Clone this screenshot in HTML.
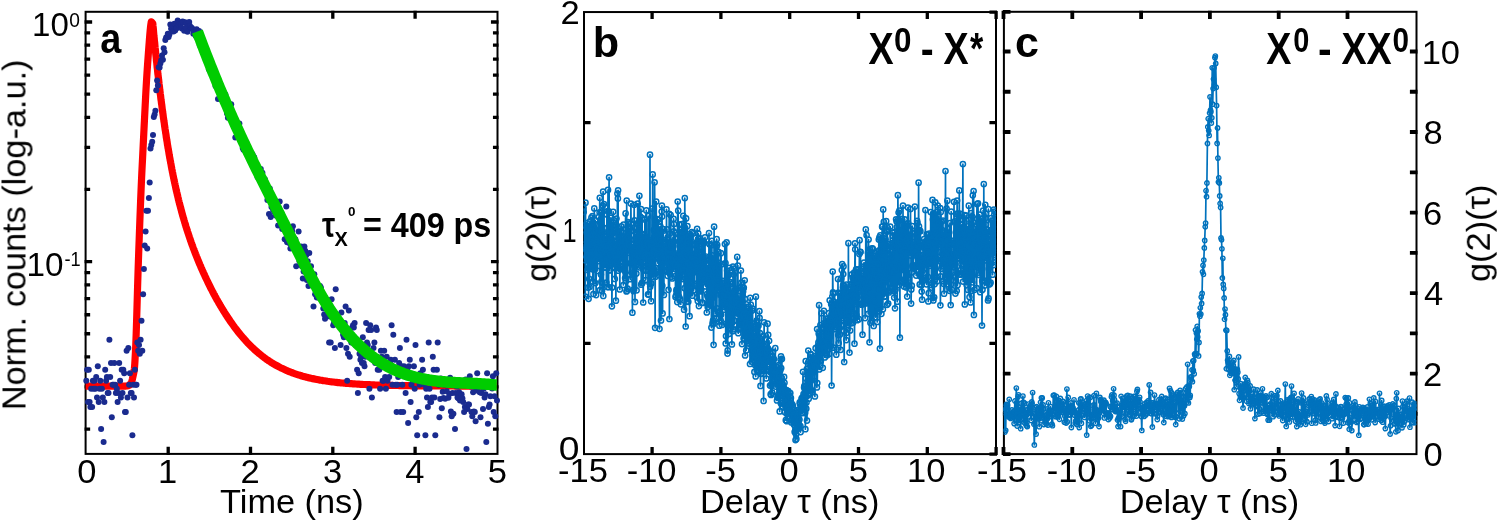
<!DOCTYPE html>
<html><head><meta charset="utf-8"><title>Figure</title>
<style>html,body{margin:0;padding:0;background:#fff}svg{display:block}text{font-family:"Liberation Sans",sans-serif;fill:#000}</style>
</head><body>
<svg width="1497" height="522" viewBox="0 0 1497 522">
<rect width="1497" height="522" fill="#fff"/>
<rect x="85.60" y="11.80" width="411.90" height="442.10" stroke="#000" stroke-width="2" fill="none"/>
<path d="M168.20 453.25L168.20 448.50M168.20 12.45L168.20 17.20M250.50 453.25L250.50 448.50M250.50 12.45L250.50 17.20M332.80 453.25L332.80 448.50M332.80 12.45L332.80 17.20M415.10 453.25L415.10 448.50M415.10 12.45L415.10 17.20M86.25 22.00L90.50 22.00M496.85 22.00L492.60 22.00M86.25 261.60L90.50 261.60M496.85 261.60L492.60 261.60M86.25 189.47L88.50 189.47M496.85 189.47L494.60 189.47M86.25 147.28L88.50 147.28M496.85 147.28L494.60 147.28M86.25 117.35L88.50 117.35M496.85 117.35L494.60 117.35M86.25 94.13L88.50 94.13M496.85 94.13L494.60 94.13M86.25 75.15L88.50 75.15M496.85 75.15L494.60 75.15M86.25 59.11L88.50 59.11M496.85 59.11L494.60 59.11M86.25 45.22L88.50 45.22M496.85 45.22L494.60 45.22M86.25 32.96L88.50 32.96M496.85 32.96L494.60 32.96M86.25 429.07L88.50 429.07M496.85 429.07L494.60 429.07M86.25 386.88L88.50 386.88M496.85 386.88L494.60 386.88M86.25 356.95L88.50 356.95M496.85 356.95L494.60 356.95M86.25 333.73L88.50 333.73M496.85 333.73L494.60 333.73M86.25 314.75L88.50 314.75M496.85 314.75L494.60 314.75M86.25 298.71L88.50 298.71M496.85 298.71L494.60 298.71M86.25 284.82L88.50 284.82M496.85 284.82L494.60 284.82M86.25 272.56L88.50 272.56M496.85 272.56L494.60 272.56" stroke="#000" stroke-width="3.3" stroke-linecap="square" fill="none"/>
<polyline points="85.6,386.2 91.6,386.2 97.6,386.2 103.6,386.2 109.6,386.2 115.6,386.2 121.6,386.2 124.0,386.2 124.2,386.2 124.4,386.2 124.6,386.2 124.8,386.2 125.0,386.2 125.2,386.2 125.4,386.1 125.6,386.1 125.8,386.1 126.0,386.1 126.2,386.0 126.4,386.0 126.6,386.0 126.8,386.0 127.0,385.9 127.2,385.9 127.4,385.8 127.6,385.8 127.8,385.8 128.0,385.7 128.2,385.7 128.4,385.6 128.6,385.6 128.8,385.5 129.0,385.4 129.2,385.2 129.4,385.1 129.6,384.9 129.8,384.7 130.0,384.4 130.2,384.2 130.4,383.9 130.6,383.6 130.8,383.3 131.0,382.9 131.2,382.6 131.4,382.2 131.6,381.8 131.8,381.3 132.0,380.6 132.2,379.9 132.4,379.1 132.6,378.2 132.8,377.3 133.0,376.4 133.2,375.5 133.4,374.5 133.6,373.6 133.8,372.7 134.0,371.6 134.2,370.3 134.4,368.6 134.6,366.3 134.8,363.5 135.0,360.2 135.2,356.5 135.4,352.6 135.6,348.5 135.8,344.1 136.0,339.0 136.2,333.4 136.4,327.3 136.6,320.9 136.8,314.2 137.0,307.4 137.2,300.4 137.4,293.4 137.6,286.5 137.8,279.8 138.0,273.3 138.2,267.1 138.4,261.3 138.6,255.6 138.8,250.0 139.0,244.3 139.2,238.8 139.4,233.2 139.6,227.8 139.8,222.4 140.0,217.0 140.2,211.8 140.4,206.6 140.6,201.5 140.8,196.5 141.0,191.7 141.2,186.9 141.4,182.3 141.6,177.8 141.8,173.5 142.0,169.4 142.2,165.4 142.4,161.5 142.6,157.5 142.8,153.5 143.0,149.4 143.2,145.3 143.4,141.2 143.6,137.2 143.8,133.1 144.0,129.1 144.2,125.0 144.4,121.1 144.6,117.1 144.8,113.1 145.0,109.1 145.2,105.1 145.4,101.2 145.6,97.2 145.8,93.4 146.0,89.7 146.2,86.1 146.4,82.7 146.6,79.4 146.8,76.2 147.0,73.1 147.2,70.0 147.4,67.0 147.6,64.1 147.8,61.2 148.0,58.4 148.2,55.7 148.4,53.0 148.6,50.3 148.8,47.7 149.0,45.1 149.2,42.5 149.4,39.9 149.6,37.3 149.8,34.9 150.0,32.5 150.2,30.3 150.4,28.3 150.6,26.5 150.8,24.9 151.0,23.6 151.2,22.3 151.3,21.8 152.8,23.4 153.0,25.9 153.3,28.4 153.5,30.9 153.7,33.3 153.9,35.7 154.2,38.1 154.4,40.5 154.7,42.9 154.9,45.2 155.1,47.6 155.4,49.9 155.6,52.2 155.8,54.4 156.1,56.7 156.3,58.9 156.5,61.1 156.8,63.3 157.0,65.5 157.2,67.6 157.5,69.7 157.7,71.9 157.9,74.0 158.2,76.0 158.4,78.1 158.7,80.1 158.9,82.2 159.1,84.2 159.4,86.2 159.6,88.2 159.8,90.1 160.1,92.1 160.3,94.0 160.6,95.9 160.8,97.8 161.0,99.7 161.3,101.5 161.5,103.4 161.8,105.2 162.0,107.0 162.2,108.8 162.5,110.6 162.7,112.4 163.0,114.2 163.2,115.9 163.4,117.6 163.7,119.3 163.9,121.0 164.2,122.7 164.4,124.4 164.6,126.0 164.9,127.7 165.1,129.3 165.4,130.9 165.6,132.5 165.9,134.1 166.1,135.6 166.3,137.2 166.6,138.7 166.8,140.3 167.1,141.8 167.3,143.3 167.5,144.8 167.8,146.2 168.0,147.7 168.3,149.1 168.5,150.6 168.8,152.0 169.0,153.4 169.2,154.8 169.5,156.2 169.7,157.6 170.0,158.9 170.2,160.3 170.5,161.6 170.7,162.9 171.0,164.2 171.2,165.5 171.4,166.8 171.7,168.1 171.9,169.4 172.2,170.6 172.4,171.9 172.7,173.1 172.9,174.3 173.1,175.5 173.4,176.7 173.6,177.9 173.9,179.1 174.1,180.3 174.4,181.4 174.6,182.6 174.9,183.7 175.1,184.9 175.4,186.0 175.6,187.1 175.8,188.2 176.1,189.3 176.3,190.4 176.6,191.4 176.8,192.5 177.1,193.5 177.3,194.6 177.6,195.6 177.8,196.7 178.1,197.7 178.3,198.7 178.5,199.7 178.8,200.7 179.0,201.7 179.3,202.7 179.5,203.6 179.8,204.6 180.0,205.5 180.3,206.5 180.5,207.4 180.8,208.4 181.0,209.3 181.3,210.2 181.5,211.1 181.7,212.0 182.0,212.9 182.2,213.8 182.5,214.7 182.7,215.6 183.0,216.5 183.2,217.3 183.5,218.2 183.7,219.0 184.0,219.9 184.2,220.7 184.5,221.6 184.7,222.4 185.0,223.2 185.2,224.0 185.4,224.8 185.7,225.6 185.9,226.4 186.2,227.2 186.4,228.0 186.7,228.8 186.9,229.6 187.2,230.4 187.4,231.1 187.7,231.9 187.9,232.7 188.2,233.4 188.4,234.2 188.7,234.9 188.9,235.6 189.2,236.4 189.4,237.1 189.7,237.8 189.9,238.6 190.2,239.3 190.4,240.0 190.6,240.7 190.9,241.4 191.1,242.1 191.4,242.8 191.6,243.5 191.9,244.2 192.1,244.9 192.4,245.6 192.6,246.2 192.9,246.9 193.1,247.6 193.4,248.3 193.6,248.9 193.9,249.6 194.1,250.2 194.4,250.9 194.6,251.6 194.9,252.2 195.1,252.8 195.4,253.5 195.6,254.1 195.9,254.8 196.1,255.4 196.4,256.0 196.6,256.6 196.9,257.3 197.1,257.9 197.4,258.5 197.6,259.1 197.8,259.7 198.1,260.3 198.3,260.9 198.6,261.5 198.8,262.1 199.1,262.7 199.3,263.3 199.6,263.9 199.8,264.5 200.1,265.1 200.3,265.7 200.6,266.2 200.8,266.8 201.1,267.4 201.3,268.0 201.6,268.5 201.8,269.1 202.1,269.7 202.3,270.2 202.6,270.8 202.8,271.4 203.1,271.9 203.3,272.5 203.6,273.0 203.8,273.6 204.1,274.1 204.3,274.7 204.6,275.2 204.8,275.7 205.1,276.3 205.3,276.8 205.6,277.4 205.8,277.9 206.1,278.4 206.3,278.9 206.6,279.5 206.8,280.0 207.1,280.5 207.3,281.0 207.6,281.5 207.8,282.1 208.1,282.6 208.3,283.1 208.6,283.6 208.8,284.1 209.1,284.6 209.3,285.1 209.6,285.6 209.8,286.1 210.1,286.6 210.3,287.1 210.5,287.6 210.8,288.1 211.0,288.6 211.3,289.1 211.5,289.5 211.8,290.0 212.0,290.5 212.3,291.0 212.5,291.5 212.8,291.9 213.0,292.4 213.3,292.9 213.5,293.4 213.8,293.8 214.0,294.3 214.3,294.8 214.5,295.2 214.8,295.7 215.0,296.2 215.3,296.6 215.5,297.1 215.8,297.5 216.0,298.0 216.3,298.4 216.5,298.9 216.8,299.3 217.0,299.8 217.3,300.2 217.5,300.7 217.8,301.1 218.0,301.5 218.3,302.0 218.5,302.4 218.8,302.9 219.0,303.3 219.3,303.7 219.5,304.2 219.8,304.6 220.0,305.0 220.3,305.4 220.5,305.9 220.8,306.3 221.0,306.7 221.3,307.1 221.5,307.5 221.8,307.9 222.0,308.4 222.3,308.8 222.5,309.2 222.8,309.6 223.0,310.0 223.3,310.4 223.5,310.8 223.8,311.2 224.0,311.6 224.3,312.0 224.5,312.4 224.8,312.8 225.0,313.2 225.3,313.6 225.5,314.0 225.8,314.4 226.0,314.8 226.3,315.2 226.5,315.5 226.8,315.9 227.0,316.3 227.3,316.7 227.5,317.1 227.8,317.4 228.0,317.8 228.3,318.2 228.5,318.6 228.8,318.9 229.0,319.3 229.3,319.7 229.5,320.0 229.8,320.4 230.0,320.8 231.5,322.9 233.0,325.0 234.5,327.1 236.0,329.1 237.5,331.0 239.0,332.9 240.5,334.7 242.0,336.5 243.5,338.3 245.0,339.9 246.5,341.6 248.0,343.2 249.5,344.7 251.0,346.2 252.5,347.7 254.0,349.1 255.5,350.5 257.0,351.8 258.5,353.1 260.0,354.3 261.5,355.5 263.0,356.7 264.5,357.8 266.0,358.9 267.5,359.9 269.0,361.0 270.5,361.9 272.0,362.9 273.5,363.8 275.0,364.7 276.5,365.5 278.0,366.3 279.5,367.1 281.0,367.9 282.5,368.6 284.0,369.3 285.5,370.0 287.0,370.7 288.5,371.3 290.0,371.9 291.5,372.5 293.0,373.0 294.5,373.6 296.0,374.1 297.5,374.6 299.0,375.1 300.5,375.5 302.0,376.0 303.5,376.4 305.0,376.8 306.5,377.2 308.0,377.6 309.5,377.9 311.0,378.3 312.5,378.6 314.0,378.9 315.5,379.2 317.0,379.5 318.5,379.8 320.0,380.1 321.5,380.3 323.0,380.6 324.5,380.8 326.0,381.0 327.5,381.3 329.0,381.5 330.5,381.7 332.0,381.9 333.5,382.0 335.0,382.2 336.5,382.4 338.0,382.6 339.5,382.7 341.0,382.9 342.5,383.0 344.0,383.1 345.5,383.3 347.0,383.4 348.5,383.5 350.0,383.6 351.5,383.7 353.0,383.8 354.5,383.9 356.0,384.0 357.5,384.1 359.0,384.2 360.5,384.3 362.0,384.4 363.5,384.5 365.0,384.5 366.5,384.6 368.0,384.7 369.5,384.7 371.0,384.8 372.5,384.9 374.0,384.9 375.5,385.0 377.0,385.0 378.5,385.1 380.0,385.1 381.5,385.2 383.0,385.2 384.5,385.2 386.0,385.3 387.5,385.3 389.0,385.4 390.5,385.4 392.0,385.4 393.5,385.5 395.0,385.5 396.5,385.5 398.0,385.5 399.5,385.6 401.0,385.6 402.5,385.6 404.0,385.6 405.5,385.7 407.0,385.7 408.5,385.7 410.0,385.7 411.5,385.8 413.0,385.8 414.5,385.8 416.0,385.8 417.5,385.8 419.0,385.8 420.5,385.8 422.0,385.9 423.5,385.9 425.0,385.9 426.5,385.9 428.0,385.9 429.5,385.9 431.0,385.9 432.5,385.9 434.0,386.0 435.5,386.0 437.0,386.0 438.5,386.0 440.0,386.0 441.5,386.0 443.0,386.0 444.5,386.0 446.0,386.0 447.5,386.0 449.0,386.0 450.5,386.0 452.0,386.0 453.5,386.0 455.0,386.1 456.5,386.1 458.0,386.1 459.5,386.1 461.0,386.1 462.5,386.1 464.0,386.1 465.5,386.1 467.0,386.1 468.5,386.1 470.0,386.1 471.5,386.1 473.0,386.1 474.5,386.1 476.0,386.1 477.5,386.1 479.0,386.1 480.5,386.1 482.0,386.1 483.5,386.1 485.0,386.1 486.5,386.1 488.0,386.1 489.5,386.1 491.0,386.1 492.5,386.1 494.0,386.1 495.5,386.1 496.5,386.1" fill="none" stroke="#ff0000" stroke-width="7.2" stroke-linejoin="round"/>
<g fill="#1a2b8f"><circle cx="86.3" cy="380.7" r="3"/><circle cx="87.1" cy="369.8" r="3"/><circle cx="88.0" cy="402.1" r="3"/><circle cx="88.8" cy="369.8" r="3"/><circle cx="89.6" cy="402.1" r="3"/><circle cx="90.4" cy="406.9" r="3"/><circle cx="91.2" cy="388.7" r="3"/><circle cx="92.1" cy="406.9" r="3"/><circle cx="92.9" cy="380.7" r="3"/><circle cx="93.7" cy="388.7" r="3"/><circle cx="94.5" cy="380.7" r="3"/><circle cx="95.4" cy="388.7" r="3"/><circle cx="96.2" cy="376.9" r="3"/><circle cx="97.0" cy="397.4" r="3"/><circle cx="97.8" cy="366.3" r="3"/><circle cx="98.7" cy="402.1" r="3"/><circle cx="99.5" cy="388.7" r="3"/><circle cx="100.3" cy="380.7" r="3"/><circle cx="101.1" cy="428.9" r="3"/><circle cx="101.9" cy="388.7" r="3"/><circle cx="102.8" cy="397.4" r="3"/><circle cx="103.6" cy="441.9" r="3"/><circle cx="104.4" cy="402.1" r="3"/><circle cx="105.2" cy="369.8" r="3"/><circle cx="106.1" cy="380.7" r="3"/><circle cx="106.9" cy="376.9" r="3"/><circle cx="107.7" cy="393.0" r="3"/><circle cx="108.5" cy="393.0" r="3"/><circle cx="109.4" cy="339.8" r="3"/><circle cx="110.2" cy="376.9" r="3"/><circle cx="111.0" cy="363.0" r="3"/><circle cx="111.8" cy="417.3" r="3"/><circle cx="112.6" cy="384.7" r="3"/><circle cx="113.5" cy="384.7" r="3"/><circle cx="114.3" cy="363.0" r="3"/><circle cx="115.1" cy="384.7" r="3"/><circle cx="115.9" cy="393.0" r="3"/><circle cx="116.8" cy="388.7" r="3"/><circle cx="117.6" cy="402.1" r="3"/><circle cx="118.4" cy="393.0" r="3"/><circle cx="119.2" cy="363.0" r="3"/><circle cx="120.1" cy="380.7" r="3"/><circle cx="120.9" cy="397.4" r="3"/><circle cx="121.7" cy="369.8" r="3"/><circle cx="122.5" cy="393.0" r="3"/><circle cx="123.3" cy="369.8" r="3"/><circle cx="124.2" cy="373.3" r="3"/><circle cx="125.0" cy="412.0" r="3"/><circle cx="125.8" cy="412.0" r="3"/><circle cx="126.6" cy="350.8" r="3"/><circle cx="127.5" cy="397.4" r="3"/><circle cx="128.3" cy="347.9" r="3"/><circle cx="129.1" cy="384.7" r="3"/><circle cx="129.9" cy="373.3" r="3"/><circle cx="130.8" cy="393.0" r="3"/><circle cx="131.6" cy="393.0" r="3"/><circle cx="132.4" cy="435.2" r="3"/><circle cx="133.2" cy="384.7" r="3"/><circle cx="134.0" cy="397.4" r="3"/><circle cx="134.9" cy="369.8" r="3"/><circle cx="135.7" cy="384.7" r="3"/><circle cx="136.5" cy="384.7" r="3"/><circle cx="137.3" cy="342.4" r="3"/><circle cx="138.2" cy="350.8" r="3"/><circle cx="139.0" cy="345.1" r="3"/><circle cx="139.8" cy="353.7" r="3"/><circle cx="140.6" cy="339.8" r="3"/><circle cx="141.5" cy="320.8" r="3"/><circle cx="142.3" cy="350.8" r="3"/><circle cx="143.1" cy="294.2" r="3"/><circle cx="143.9" cy="268.9" r="3"/><circle cx="144.7" cy="245.4" r="3"/><circle cx="145.6" cy="231.6" r="3"/><circle cx="146.4" cy="210.8" r="3"/><circle cx="147.2" cy="248.6" r="3"/><circle cx="148.0" cy="210.8" r="3"/><circle cx="148.9" cy="198.1" r="3"/><circle cx="149.7" cy="182.6" r="3"/><circle cx="150.5" cy="148.5" r="3"/><circle cx="151.3" cy="144.9" r="3"/><circle cx="152.2" cy="141.7" r="3"/><circle cx="153.0" cy="134.9" r="3"/><circle cx="153.8" cy="116.9" r="3"/><circle cx="154.6" cy="114.5" r="3"/><circle cx="155.4" cy="110.7" r="3"/><circle cx="156.3" cy="90.3" r="3"/><circle cx="157.1" cy="80.6" r="3"/><circle cx="157.9" cy="85.4" r="3"/><circle cx="158.7" cy="67.2" r="3"/><circle cx="159.6" cy="67.6" r="3"/><circle cx="160.4" cy="63.5" r="3"/><circle cx="161.2" cy="60.2" r="3"/><circle cx="162.0" cy="55.5" r="3"/><circle cx="162.9" cy="59.7" r="3"/><circle cx="163.7" cy="48.3" r="3"/><circle cx="164.5" cy="52.2" r="3"/><circle cx="165.3" cy="40.1" r="3"/><circle cx="166.1" cy="37.6" r="3"/><circle cx="167.0" cy="37.1" r="3"/><circle cx="167.8" cy="33.8" r="3"/><circle cx="168.6" cy="37.1" r="3"/><circle cx="169.4" cy="34.4" r="3"/><circle cx="170.3" cy="24.4" r="3"/><circle cx="171.1" cy="28.7" r="3"/><circle cx="171.9" cy="29.8" r="3"/><circle cx="172.7" cy="27.6" r="3"/><circle cx="173.5" cy="31.5" r="3"/><circle cx="174.4" cy="23.7" r="3"/><circle cx="175.2" cy="30.6" r="3"/><circle cx="176.0" cy="28.5" r="3"/><circle cx="176.8" cy="27.9" r="3"/><circle cx="177.7" cy="20.5" r="3"/><circle cx="178.5" cy="24.9" r="3"/><circle cx="179.3" cy="22.3" r="3"/><circle cx="180.1" cy="23.4" r="3"/><circle cx="181.0" cy="24.0" r="3"/><circle cx="181.8" cy="28.5" r="3"/><circle cx="182.6" cy="21.5" r="3"/><circle cx="183.4" cy="22.2" r="3"/><circle cx="184.2" cy="30.7" r="3"/><circle cx="185.1" cy="22.3" r="3"/><circle cx="185.9" cy="27.7" r="3"/><circle cx="186.7" cy="23.1" r="3"/><circle cx="187.5" cy="31.7" r="3"/><circle cx="188.4" cy="24.0" r="3"/><circle cx="189.2" cy="22.1" r="3"/><circle cx="190.0" cy="26.0" r="3"/><circle cx="190.8" cy="28.5" r="3"/><circle cx="191.7" cy="27.8" r="3"/><circle cx="192.5" cy="29.1" r="3"/><circle cx="193.3" cy="33.7" r="3"/><circle cx="194.1" cy="32.7" r="3"/><circle cx="194.9" cy="33.4" r="3"/><circle cx="195.8" cy="36.1" r="3"/><circle cx="196.6" cy="29.3" r="3"/><circle cx="197.4" cy="37.9" r="3"/><circle cx="198.2" cy="32.9" r="3"/><circle cx="199.1" cy="31.0" r="3"/><circle cx="199.9" cy="45.2" r="3"/><circle cx="200.7" cy="41.0" r="3"/><circle cx="201.5" cy="41.1" r="3"/><circle cx="202.4" cy="39.8" r="3"/><circle cx="203.2" cy="45.0" r="3"/><circle cx="204.0" cy="50.9" r="3"/><circle cx="204.8" cy="55.0" r="3"/><circle cx="205.6" cy="52.0" r="3"/><circle cx="206.5" cy="51.1" r="3"/><circle cx="207.3" cy="62.4" r="3"/><circle cx="208.1" cy="65.0" r="3"/><circle cx="208.9" cy="69.3" r="3"/><circle cx="209.8" cy="60.1" r="3"/><circle cx="210.6" cy="72.1" r="3"/><circle cx="211.4" cy="72.7" r="3"/><circle cx="212.2" cy="74.5" r="3"/><circle cx="213.1" cy="71.9" r="3"/><circle cx="213.9" cy="77.0" r="3"/><circle cx="214.7" cy="71.7" r="3"/><circle cx="215.5" cy="85.9" r="3"/><circle cx="216.3" cy="86.1" r="3"/><circle cx="217.2" cy="83.6" r="3"/><circle cx="218.0" cy="99.0" r="3"/><circle cx="218.8" cy="86.4" r="3"/><circle cx="219.6" cy="93.7" r="3"/><circle cx="220.5" cy="85.0" r="3"/><circle cx="221.3" cy="88.2" r="3"/><circle cx="222.1" cy="92.5" r="3"/><circle cx="222.9" cy="94.7" r="3"/><circle cx="223.8" cy="102.6" r="3"/><circle cx="224.6" cy="97.2" r="3"/><circle cx="225.4" cy="94.4" r="3"/><circle cx="226.2" cy="107.8" r="3"/><circle cx="227.0" cy="113.6" r="3"/><circle cx="227.9" cy="117.8" r="3"/><circle cx="228.7" cy="109.5" r="3"/><circle cx="229.5" cy="116.3" r="3"/><circle cx="230.3" cy="111.3" r="3"/><circle cx="231.2" cy="104.3" r="3"/><circle cx="232.0" cy="119.7" r="3"/><circle cx="232.8" cy="113.9" r="3"/><circle cx="233.6" cy="119.1" r="3"/><circle cx="234.5" cy="122.9" r="3"/><circle cx="235.3" cy="137.5" r="3"/><circle cx="236.1" cy="127.9" r="3"/><circle cx="236.9" cy="125.2" r="3"/><circle cx="237.7" cy="126.9" r="3"/><circle cx="238.6" cy="131.7" r="3"/><circle cx="239.4" cy="123.6" r="3"/><circle cx="240.2" cy="137.1" r="3"/><circle cx="241.0" cy="137.1" r="3"/><circle cx="241.9" cy="138.3" r="3"/><circle cx="242.7" cy="148.1" r="3"/><circle cx="243.5" cy="149.8" r="3"/><circle cx="244.3" cy="140.2" r="3"/><circle cx="245.2" cy="146.1" r="3"/><circle cx="246.0" cy="149.4" r="3"/><circle cx="246.8" cy="143.7" r="3"/><circle cx="247.6" cy="149.4" r="3"/><circle cx="248.4" cy="152.8" r="3"/><circle cx="249.3" cy="150.6" r="3"/><circle cx="250.1" cy="158.1" r="3"/><circle cx="250.9" cy="159.0" r="3"/><circle cx="251.7" cy="153.6" r="3"/><circle cx="252.6" cy="154.5" r="3"/><circle cx="253.4" cy="165.1" r="3"/><circle cx="254.2" cy="157.2" r="3"/><circle cx="255.0" cy="166.1" r="3"/><circle cx="255.8" cy="165.1" r="3"/><circle cx="256.7" cy="172.2" r="3"/><circle cx="257.5" cy="177.0" r="3"/><circle cx="258.3" cy="177.5" r="3"/><circle cx="259.1" cy="178.6" r="3"/><circle cx="260.0" cy="180.3" r="3"/><circle cx="260.8" cy="169.1" r="3"/><circle cx="261.6" cy="176.4" r="3"/><circle cx="262.4" cy="172.7" r="3"/><circle cx="263.3" cy="184.3" r="3"/><circle cx="264.1" cy="187.3" r="3"/><circle cx="264.9" cy="179.2" r="3"/><circle cx="265.7" cy="182.6" r="3"/><circle cx="266.5" cy="193.5" r="3"/><circle cx="267.4" cy="200.1" r="3"/><circle cx="268.2" cy="189.1" r="3"/><circle cx="269.0" cy="213.9" r="3"/><circle cx="269.8" cy="188.5" r="3"/><circle cx="270.7" cy="217.1" r="3"/><circle cx="271.5" cy="207.1" r="3"/><circle cx="272.3" cy="205.0" r="3"/><circle cx="273.1" cy="210.1" r="3"/><circle cx="274.0" cy="204.3" r="3"/><circle cx="274.8" cy="212.4" r="3"/><circle cx="275.6" cy="215.5" r="3"/><circle cx="276.4" cy="212.4" r="3"/><circle cx="277.2" cy="206.4" r="3"/><circle cx="278.1" cy="225.4" r="3"/><circle cx="278.9" cy="207.9" r="3"/><circle cx="279.7" cy="201.5" r="3"/><circle cx="280.5" cy="214.7" r="3"/><circle cx="281.4" cy="213.1" r="3"/><circle cx="282.2" cy="228.9" r="3"/><circle cx="283.0" cy="223.7" r="3"/><circle cx="283.8" cy="226.3" r="3"/><circle cx="284.7" cy="239.3" r="3"/><circle cx="285.5" cy="239.3" r="3"/><circle cx="286.3" cy="206.4" r="3"/><circle cx="287.1" cy="242.3" r="3"/><circle cx="287.9" cy="233.5" r="3"/><circle cx="288.8" cy="235.4" r="3"/><circle cx="289.6" cy="243.3" r="3"/><circle cx="290.4" cy="248.6" r="3"/><circle cx="291.2" cy="242.3" r="3"/><circle cx="292.1" cy="230.7" r="3"/><circle cx="292.9" cy="226.3" r="3"/><circle cx="293.7" cy="239.3" r="3"/><circle cx="294.5" cy="241.3" r="3"/><circle cx="295.4" cy="239.3" r="3"/><circle cx="296.2" cy="266.3" r="3"/><circle cx="297.0" cy="247.5" r="3"/><circle cx="297.8" cy="247.5" r="3"/><circle cx="298.6" cy="231.6" r="3"/><circle cx="299.5" cy="261.3" r="3"/><circle cx="300.3" cy="250.8" r="3"/><circle cx="301.1" cy="246.5" r="3"/><circle cx="301.9" cy="266.3" r="3"/><circle cx="302.8" cy="278.6" r="3"/><circle cx="303.6" cy="271.6" r="3"/><circle cx="304.4" cy="246.5" r="3"/><circle cx="305.2" cy="250.8" r="3"/><circle cx="306.1" cy="255.3" r="3"/><circle cx="306.9" cy="280.0" r="3"/><circle cx="307.7" cy="261.3" r="3"/><circle cx="308.5" cy="286.1" r="3"/><circle cx="309.3" cy="253.1" r="3"/><circle cx="310.2" cy="270.3" r="3"/><circle cx="311.0" cy="266.3" r="3"/><circle cx="311.8" cy="280.0" r="3"/><circle cx="312.6" cy="280.0" r="3"/><circle cx="313.5" cy="306.6" r="3"/><circle cx="314.3" cy="274.3" r="3"/><circle cx="315.1" cy="294.2" r="3"/><circle cx="315.9" cy="289.2" r="3"/><circle cx="316.8" cy="297.6" r="3"/><circle cx="317.6" cy="286.1" r="3"/><circle cx="318.4" cy="297.6" r="3"/><circle cx="319.2" cy="286.1" r="3"/><circle cx="320.0" cy="286.1" r="3"/><circle cx="320.9" cy="287.6" r="3"/><circle cx="321.7" cy="299.3" r="3"/><circle cx="322.5" cy="301.1" r="3"/><circle cx="323.3" cy="308.5" r="3"/><circle cx="324.2" cy="314.5" r="3"/><circle cx="325.0" cy="318.7" r="3"/><circle cx="325.8" cy="306.6" r="3"/><circle cx="326.6" cy="316.6" r="3"/><circle cx="327.5" cy="306.6" r="3"/><circle cx="328.3" cy="310.5" r="3"/><circle cx="329.1" cy="342.4" r="3"/><circle cx="329.9" cy="316.6" r="3"/><circle cx="330.7" cy="342.4" r="3"/><circle cx="331.6" cy="299.3" r="3"/><circle cx="332.4" cy="316.6" r="3"/><circle cx="333.2" cy="325.2" r="3"/><circle cx="334.0" cy="323.0" r="3"/><circle cx="334.9" cy="347.9" r="3"/><circle cx="335.7" cy="289.2" r="3"/><circle cx="336.5" cy="314.5" r="3"/><circle cx="337.3" cy="318.7" r="3"/><circle cx="338.1" cy="318.7" r="3"/><circle cx="339.0" cy="320.8" r="3"/><circle cx="339.8" cy="320.8" r="3"/><circle cx="340.6" cy="345.1" r="3"/><circle cx="341.4" cy="312.5" r="3"/><circle cx="342.3" cy="325.2" r="3"/><circle cx="343.1" cy="334.7" r="3"/><circle cx="343.9" cy="337.2" r="3"/><circle cx="344.7" cy="323.0" r="3"/><circle cx="345.6" cy="306.6" r="3"/><circle cx="346.4" cy="347.9" r="3"/><circle cx="347.2" cy="380.7" r="3"/><circle cx="348.0" cy="353.7" r="3"/><circle cx="348.8" cy="310.5" r="3"/><circle cx="349.7" cy="356.7" r="3"/><circle cx="350.5" cy="337.2" r="3"/><circle cx="351.3" cy="342.4" r="3"/><circle cx="352.1" cy="327.5" r="3"/><circle cx="353.0" cy="325.2" r="3"/><circle cx="353.8" cy="327.5" r="3"/><circle cx="354.6" cy="323.0" r="3"/><circle cx="355.4" cy="345.1" r="3"/><circle cx="356.3" cy="342.4" r="3"/><circle cx="357.1" cy="369.8" r="3"/><circle cx="357.9" cy="393.0" r="3"/><circle cx="358.7" cy="373.3" r="3"/><circle cx="359.5" cy="353.7" r="3"/><circle cx="360.4" cy="359.8" r="3"/><circle cx="361.2" cy="356.7" r="3"/><circle cx="362.0" cy="363.0" r="3"/><circle cx="362.8" cy="337.2" r="3"/><circle cx="363.7" cy="363.0" r="3"/><circle cx="364.5" cy="366.3" r="3"/><circle cx="365.3" cy="356.7" r="3"/><circle cx="366.1" cy="323.0" r="3"/><circle cx="367.0" cy="342.4" r="3"/><circle cx="367.8" cy="345.1" r="3"/><circle cx="368.6" cy="329.9" r="3"/><circle cx="369.4" cy="388.7" r="3"/><circle cx="370.2" cy="325.2" r="3"/><circle cx="371.1" cy="329.9" r="3"/><circle cx="371.9" cy="397.4" r="3"/><circle cx="372.7" cy="359.8" r="3"/><circle cx="373.5" cy="347.9" r="3"/><circle cx="374.4" cy="342.4" r="3"/><circle cx="375.2" cy="363.0" r="3"/><circle cx="376.0" cy="327.5" r="3"/><circle cx="376.8" cy="329.9" r="3"/><circle cx="377.7" cy="369.8" r="3"/><circle cx="378.5" cy="363.0" r="3"/><circle cx="379.3" cy="369.8" r="3"/><circle cx="380.1" cy="388.7" r="3"/><circle cx="380.9" cy="350.8" r="3"/><circle cx="381.8" cy="356.7" r="3"/><circle cx="382.6" cy="380.7" r="3"/><circle cx="383.4" cy="380.7" r="3"/><circle cx="384.2" cy="350.8" r="3"/><circle cx="385.1" cy="376.9" r="3"/><circle cx="385.9" cy="388.7" r="3"/><circle cx="386.7" cy="356.7" r="3"/><circle cx="387.5" cy="380.7" r="3"/><circle cx="388.4" cy="363.0" r="3"/><circle cx="389.2" cy="376.9" r="3"/><circle cx="390.0" cy="363.0" r="3"/><circle cx="390.8" cy="359.8" r="3"/><circle cx="391.6" cy="325.2" r="3"/><circle cx="392.5" cy="384.7" r="3"/><circle cx="393.3" cy="334.7" r="3"/><circle cx="394.1" cy="369.8" r="3"/><circle cx="394.9" cy="359.8" r="3"/><circle cx="395.8" cy="384.7" r="3"/><circle cx="396.6" cy="412.0" r="3"/><circle cx="397.4" cy="384.7" r="3"/><circle cx="398.2" cy="376.9" r="3"/><circle cx="399.1" cy="363.0" r="3"/><circle cx="399.9" cy="347.9" r="3"/><circle cx="400.7" cy="412.0" r="3"/><circle cx="401.5" cy="366.3" r="3"/><circle cx="402.3" cy="384.7" r="3"/><circle cx="403.2" cy="412.0" r="3"/><circle cx="404.0" cy="366.3" r="3"/><circle cx="404.8" cy="369.8" r="3"/><circle cx="405.6" cy="393.0" r="3"/><circle cx="406.5" cy="339.8" r="3"/><circle cx="407.3" cy="369.8" r="3"/><circle cx="408.1" cy="423.0" r="3"/><circle cx="408.9" cy="366.3" r="3"/><circle cx="409.8" cy="359.8" r="3"/><circle cx="410.6" cy="402.1" r="3"/><circle cx="411.4" cy="384.7" r="3"/><circle cx="412.2" cy="376.9" r="3"/><circle cx="413.0" cy="380.7" r="3"/><circle cx="413.9" cy="366.3" r="3"/><circle cx="414.7" cy="388.7" r="3"/><circle cx="415.5" cy="345.1" r="3"/><circle cx="416.3" cy="417.3" r="3"/><circle cx="417.2" cy="435.2" r="3"/><circle cx="418.0" cy="380.7" r="3"/><circle cx="418.8" cy="412.0" r="3"/><circle cx="419.6" cy="384.7" r="3"/><circle cx="420.4" cy="373.3" r="3"/><circle cx="421.3" cy="376.9" r="3"/><circle cx="422.1" cy="359.8" r="3"/><circle cx="422.9" cy="369.8" r="3"/><circle cx="423.7" cy="376.9" r="3"/><circle cx="424.6" cy="384.7" r="3"/><circle cx="425.4" cy="435.2" r="3"/><circle cx="426.2" cy="388.7" r="3"/><circle cx="427.0" cy="397.4" r="3"/><circle cx="427.9" cy="406.9" r="3"/><circle cx="428.7" cy="342.4" r="3"/><circle cx="429.5" cy="388.7" r="3"/><circle cx="430.3" cy="402.1" r="3"/><circle cx="431.1" cy="402.1" r="3"/><circle cx="432.0" cy="397.4" r="3"/><circle cx="432.8" cy="356.7" r="3"/><circle cx="433.6" cy="369.8" r="3"/><circle cx="434.4" cy="397.4" r="3"/><circle cx="435.3" cy="435.2" r="3"/><circle cx="436.1" cy="380.7" r="3"/><circle cx="436.9" cy="369.8" r="3"/><circle cx="437.7" cy="342.4" r="3"/><circle cx="438.6" cy="384.7" r="3"/><circle cx="439.4" cy="417.3" r="3"/><circle cx="440.2" cy="398.9" r="3"/><circle cx="441.0" cy="378.6" r="3"/><circle cx="441.8" cy="408.2" r="3"/><circle cx="442.7" cy="391.8" r="3"/><circle cx="443.5" cy="398.1" r="3"/><circle cx="444.3" cy="384.7" r="3"/><circle cx="445.1" cy="398.7" r="3"/><circle cx="446.0" cy="381.8" r="3"/><circle cx="446.8" cy="391.3" r="3"/><circle cx="447.6" cy="384.1" r="3"/><circle cx="448.4" cy="397.8" r="3"/><circle cx="449.3" cy="394.0" r="3"/><circle cx="450.1" cy="377.8" r="3"/><circle cx="450.9" cy="411.4" r="3"/><circle cx="451.7" cy="416.2" r="3"/><circle cx="452.5" cy="393.0" r="3"/><circle cx="453.4" cy="413.8" r="3"/><circle cx="454.2" cy="380.7" r="3"/><circle cx="455.0" cy="428.9" r="3"/><circle cx="455.8" cy="393.0" r="3"/><circle cx="456.7" cy="386.6" r="3"/><circle cx="457.5" cy="397.4" r="3"/><circle cx="458.3" cy="398.3" r="3"/><circle cx="459.1" cy="392.3" r="3"/><circle cx="460.0" cy="400.4" r="3"/><circle cx="460.8" cy="380.7" r="3"/><circle cx="461.6" cy="394.3" r="3"/><circle cx="462.4" cy="398.3" r="3"/><circle cx="463.2" cy="402.1" r="3"/><circle cx="464.1" cy="412.0" r="3"/><circle cx="464.9" cy="406.9" r="3"/><circle cx="465.7" cy="379.5" r="3"/><circle cx="466.5" cy="449.1" r="3"/><circle cx="467.4" cy="409.1" r="3"/><circle cx="468.2" cy="404.6" r="3"/><circle cx="469.0" cy="404.6" r="3"/><circle cx="469.8" cy="376.2" r="3"/><circle cx="470.7" cy="386.6" r="3"/><circle cx="471.5" cy="412.0" r="3"/><circle cx="472.3" cy="416.2" r="3"/><circle cx="473.1" cy="392.3" r="3"/><circle cx="473.9" cy="411.4" r="3"/><circle cx="474.8" cy="412.0" r="3"/><circle cx="475.6" cy="421.2" r="3"/><circle cx="476.4" cy="390.4" r="3"/><circle cx="477.2" cy="373.3" r="3"/><circle cx="478.1" cy="386.6" r="3"/><circle cx="478.9" cy="386.6" r="3"/><circle cx="479.7" cy="392.3" r="3"/><circle cx="480.5" cy="417.3" r="3"/><circle cx="481.4" cy="393.0" r="3"/><circle cx="482.2" cy="383.0" r="3"/><circle cx="483.0" cy="409.1" r="3"/><circle cx="483.8" cy="388.5" r="3"/><circle cx="484.6" cy="397.4" r="3"/><circle cx="485.5" cy="394.3" r="3"/><circle cx="486.3" cy="441.9" r="3"/><circle cx="487.1" cy="373.3" r="3"/><circle cx="487.9" cy="423.8" r="3"/><circle cx="488.8" cy="406.9" r="3"/><circle cx="489.6" cy="404.6" r="3"/><circle cx="490.4" cy="396.3" r="3"/><circle cx="491.2" cy="384.7" r="3"/><circle cx="492.1" cy="388.5" r="3"/><circle cx="492.9" cy="376.2" r="3"/><circle cx="493.7" cy="412.0" r="3"/><circle cx="494.5" cy="396.3" r="3"/><circle cx="495.3" cy="416.2" r="3"/><circle cx="496.2" cy="373.3" r="3"/><circle cx="497.0" cy="400.4" r="3"/></g>
<polyline points="197.4,31.5 198.4,34.2 199.4,36.9 200.4,39.5 201.4,42.2 202.4,44.9 203.4,47.5 204.4,50.1 205.4,52.7 206.4,55.3 207.4,57.9 208.4,60.4 209.4,62.9 210.4,65.5 211.4,68.0 212.4,70.5 213.4,73.0 214.4,75.4 215.4,77.9 216.4,80.3 217.4,82.8 218.4,85.2 219.4,87.6 220.4,90.0 221.4,92.3 222.4,94.7 223.4,97.1 224.4,99.4 225.4,101.7 226.4,104.0 227.4,106.3 228.4,108.6 229.4,110.9 230.4,113.2 231.4,115.4 232.4,117.7 233.4,119.9 234.4,122.1 235.4,124.4 236.4,126.6 237.4,128.7 238.4,130.9 239.4,133.1 240.4,135.3 241.4,137.4 242.4,139.6 243.4,141.7 244.4,143.8 245.4,145.9 246.4,148.0 247.4,150.1 248.4,152.2 249.4,154.3 250.4,156.4 251.4,158.4 252.4,160.5 253.4,162.6 254.4,164.6 255.4,166.6 256.4,168.7 257.4,170.7 258.4,172.7 259.4,174.7 260.4,176.7 261.4,178.7 262.4,180.7 263.4,182.7 264.4,184.7 265.4,186.7 266.4,188.7 267.4,190.7 268.4,192.6 269.4,194.6 270.4,196.6 271.4,198.6 272.4,200.5 273.4,202.5 274.4,204.5 275.4,206.4 276.4,208.4 277.4,210.4 278.4,212.4 279.4,214.3 280.4,216.3 281.4,218.3 282.4,220.3 283.4,222.3 284.4,224.2 285.4,226.2 286.4,228.2 287.4,230.2 288.4,232.2 289.4,234.2 290.4,236.2 291.4,238.3 292.4,240.3 293.4,242.3 294.4,244.3 295.4,246.3 296.4,248.3 297.4,250.3 298.4,252.3 299.4,254.3 300.4,256.3 301.4,258.3 302.4,260.2 303.4,262.2 304.4,264.2 305.4,266.1 306.4,268.1 307.4,270.0 308.4,271.9 309.4,273.8 310.4,275.7 311.4,277.6 312.4,279.5 313.4,281.4 314.4,283.2 315.4,285.0 316.4,286.8 317.4,288.6 318.4,290.4 319.4,292.2 320.4,293.9 321.4,295.6 322.4,297.3 323.4,299.0 324.4,300.6 325.4,302.3 326.4,303.9 327.4,305.5 328.4,307.0 329.4,308.6 330.4,310.1 331.4,311.6 332.4,313.1 333.4,314.5 334.4,316.0 335.4,317.4 336.4,318.8 337.4,320.2 338.4,321.5 339.4,322.9 340.4,324.2 341.4,325.5 342.4,326.7 343.4,328.0 344.4,329.2 345.4,330.4 346.4,331.6 347.4,332.8 348.4,334.0 349.4,335.1 350.4,336.2 351.4,337.3 352.4,338.4 353.4,339.5 354.4,340.6 355.4,341.6 356.4,342.6 357.4,343.6 358.4,344.6 359.4,345.6 360.4,346.5 361.4,347.4 362.4,348.3 363.4,349.2 364.4,350.1 365.4,351.0 366.4,351.8 367.4,352.7 368.4,353.5 369.4,354.3 370.4,355.1 371.4,355.9 372.4,356.6 373.4,357.4 374.4,358.1 375.4,358.8 376.4,359.5 377.4,360.2 378.4,360.8 379.4,361.5 380.4,362.1 381.4,362.8 382.4,363.4 383.4,364.0 384.4,364.6 385.4,365.2 386.4,365.7 387.4,366.3 388.4,366.8 389.4,367.3 390.4,367.9 391.4,368.4 392.4,368.8 393.4,369.3 394.4,369.8 395.4,370.2 396.4,370.7 397.4,371.1 398.4,371.5 399.4,372.0 400.4,372.4 401.4,372.8 402.4,373.1 403.4,373.5 404.4,373.9 405.4,374.2 406.4,374.6 407.4,374.9 408.4,375.2 409.4,375.5 410.4,375.8 411.4,376.1 412.4,376.4 413.4,376.7 414.4,376.9 415.4,377.2 416.4,377.5 417.4,377.7 418.4,377.9 419.4,378.2 420.4,378.4 421.4,378.6 422.4,378.8 423.4,379.0 424.4,379.2 425.4,379.4 426.4,379.6 427.4,379.7 428.4,379.9 429.4,380.1 430.4,380.2 431.4,380.4 432.4,380.5 433.4,380.6 434.4,380.8 435.4,380.9 436.4,381.0 437.4,381.1 438.4,381.3 439.4,381.4 440.4,381.5 441.4,381.6 442.4,381.7 443.4,381.8 444.4,381.8 445.4,381.9 446.4,382.0 447.4,382.1 448.4,382.2 449.4,382.2 450.4,382.3 451.4,382.4 452.4,382.4 453.4,382.5 454.4,382.5 455.4,382.6 456.4,382.7 457.4,382.7 458.4,382.8 459.4,382.8 460.4,382.9 461.4,382.9 462.4,382.9 463.4,383.0 464.4,383.0 465.4,383.1 466.4,383.1 467.4,383.2 468.4,383.2 469.4,383.3 470.4,383.3 471.4,383.3 472.4,383.4 473.4,383.4 474.4,383.5 475.4,383.5 476.4,383.6 477.4,383.6 478.4,383.7 479.4,383.7 480.4,383.8 481.4,383.9 482.4,383.9 483.4,384.0 484.4,384.0 485.4,384.1 486.4,384.2 487.4,384.3 488.4,384.3 489.4,384.4 490.4,384.5 491.4,384.6 492.4,384.7 493.4,384.8 494.4,384.9 495.4,385.0 496.4,385.1 496.8,385.1" fill="none" stroke="#00cc00" stroke-width="11.5" stroke-linejoin="round"/>
<rect x="584.00" y="12.05" width="412.00" height="442.05" stroke="#000" stroke-width="2" fill="none"/>
<path d="M652.10 453.45L652.10 448.70M652.10 12.70L652.10 17.45M720.90 453.45L720.90 448.70M720.90 12.70L720.90 17.45M789.70 453.45L789.70 448.70M789.70 12.70L789.70 17.45M858.50 453.45L858.50 448.70M858.50 12.70L858.50 17.45M927.30 453.45L927.30 448.70M927.30 12.70L927.30 17.45M996.10 453.45L996.10 448.70M996.10 12.70L996.10 17.45M584.65 343.35L588.90 343.35M584.65 233.00L588.90 233.00M584.65 122.65L588.90 122.65M995.35 454.10L991.10 454.10M995.35 343.35L991.10 343.35M995.35 233.00L991.10 233.00M995.35 122.65L991.10 122.65M995.35 12.05L991.10 12.05" stroke="#000" stroke-width="3.3" stroke-linecap="square" fill="none"/>
<defs><marker id="mb" markerUnits="userSpaceOnUse" markerWidth="8" markerHeight="8" refX="4" refY="4"><circle cx="4" cy="4" r="2.6" fill="none" stroke="#0072bd" stroke-width="1.5"/></marker><clipPath id="cb"><rect x="583.6" y="12" width="412.5" height="442.1"/></clipPath></defs><polyline clip-path="url(#cb)" points="583.3,244.7 583.5,208.2 583.7,211.9 584.0,259.7 584.2,253.9 584.4,260.2 584.6,230.0 584.8,247.3 585.1,225.2 585.3,296.6 585.5,202.7 585.7,248.4 585.9,227.1 586.2,249.6 586.4,256.3 586.6,233.1 586.8,223.2 587.0,251.5 587.3,250.1 587.5,227.1 587.7,269.9 587.9,287.6 588.1,235.1 588.4,264.4 588.6,298.8 588.8,268.4 589.0,258.9 589.2,278.9 589.5,287.1 589.7,245.1 589.9,221.4 590.1,252.5 590.3,266.6 590.6,235.6 590.8,226.5 591.0,254.4 591.2,231.2 591.4,217.6 591.7,251.9 591.9,268.6 592.1,236.7 592.3,239.5 592.5,216.1 592.8,281.6 593.0,264.5 593.2,269.4 593.4,294.0 593.6,242.9 593.9,231.9 594.1,266.7 594.3,208.4 594.5,223.9 594.7,229.3 595.0,235.5 595.2,220.3 595.4,283.1 595.6,229.7 595.8,230.0 596.1,295.1 596.3,237.1 596.5,253.5 596.7,225.2 596.9,258.7 597.2,247.2 597.4,237.3 597.6,270.8 597.8,230.3 598.1,249.6 598.3,233.3 598.5,261.1 598.7,217.0 598.9,230.2 599.2,251.7 599.4,229.5 599.6,212.3 599.8,197.8 600.0,290.0 600.3,222.7 600.5,234.2 600.7,249.5 600.9,274.6 601.1,212.5 601.4,281.6 601.6,231.5 601.8,211.4 602.0,290.9 602.2,255.4 602.5,283.0 602.7,240.4 602.9,205.6 603.1,191.7 603.3,295.9 603.6,262.9 603.8,227.9 604.0,204.0 604.2,235.7 604.4,267.7 604.7,239.1 604.9,247.7 605.1,252.9 605.3,267.4 605.5,236.7 605.8,238.9 606.0,249.9 606.2,253.5 606.4,282.6 606.6,260.7 606.9,214.4 607.1,252.7 607.3,286.9 607.5,211.0 607.7,233.0 608.0,189.9 608.2,245.8 608.4,260.2 608.6,287.2 608.8,211.4 609.1,177.3 609.3,270.1 609.5,265.3 609.7,231.4 609.9,270.4 610.2,255.1 610.4,257.3 610.6,242.5 610.8,217.8 611.0,247.2 611.3,222.7 611.5,259.3 611.7,238.9 611.9,306.3 612.1,287.5 612.4,226.1 612.6,264.0 612.8,232.1 613.0,233.1 613.2,211.8 613.5,225.8 613.7,220.2 613.9,251.1 614.1,267.1 614.3,268.0 614.6,261.4 614.8,278.9 615.0,263.1 615.2,250.7 615.4,241.3 615.7,257.4 615.9,300.7 616.1,250.2 616.3,242.1 616.5,218.6 616.8,232.5 617.0,265.8 617.2,268.0 617.4,193.5 617.6,227.7 617.9,198.4 618.1,190.3 618.3,270.7 618.5,237.9 618.7,235.9 619.0,233.2 619.2,233.7 619.4,243.0 619.6,243.8 619.8,289.5 620.1,253.1 620.3,268.9 620.5,245.2 620.7,261.4 620.9,231.8 621.2,226.3 621.4,240.3 621.6,240.1 621.8,246.2 622.0,260.9 622.3,253.2 622.5,262.3 622.7,238.2 622.9,248.4 623.1,233.0 623.4,285.0 623.6,224.7 623.8,269.7 624.0,268.9 624.2,254.3 624.5,264.3 624.7,241.1 624.9,264.6 625.1,278.1 625.4,272.1 625.6,213.4 625.8,247.9 626.0,280.9 626.2,248.9 626.5,291.5 626.7,200.5 626.9,290.7 627.1,236.2 627.3,234.5 627.6,288.7 627.8,241.1 628.0,222.2 628.2,236.6 628.4,242.3 628.7,223.6 628.9,245.0 629.1,240.3 629.3,252.9 629.5,232.3 629.8,275.1 630.0,228.0 630.2,263.3 630.4,279.2 630.6,239.7 630.9,203.6 631.1,223.5 631.3,263.7 631.5,230.7 631.7,262.0 632.0,253.1 632.2,247.3 632.4,312.7 632.6,244.6 632.8,277.8 633.1,268.8 633.3,289.9 633.5,291.1 633.7,275.5 633.9,227.6 634.2,204.8 634.4,250.7 634.6,220.4 634.8,257.2 635.0,301.9 635.3,246.0 635.5,238.1 635.7,261.8 635.9,242.0 636.1,234.7 636.4,273.6 636.6,290.3 636.8,256.3 637.0,256.0 637.2,259.9 637.5,223.6 637.7,203.7 637.9,261.7 638.1,231.5 638.3,225.0 638.6,231.2 638.8,222.2 639.0,261.1 639.2,230.6 639.4,195.8 639.7,228.9 639.9,267.5 640.1,234.3 640.3,216.6 640.5,240.8 640.8,266.0 641.0,209.1 641.2,284.7 641.4,237.3 641.6,251.3 641.9,283.2 642.1,218.0 642.3,241.6 642.5,282.6 642.7,234.8 643.0,262.8 643.2,302.5 643.4,269.8 643.6,244.1 643.8,234.1 644.1,246.8 644.3,250.1 644.5,238.6 644.7,257.1 644.9,219.6 645.2,247.4 645.4,243.5 645.6,236.9 645.8,280.1 646.0,270.7 646.3,210.4 646.5,242.6 646.7,259.3 646.9,242.5 647.1,264.7 647.4,244.3 647.6,269.8 647.8,244.4 648.0,294.4 648.2,216.1 648.5,265.8 648.7,294.6 648.9,258.1 649.1,262.1 649.3,248.0 649.6,283.0 649.8,241.5 650.0,154.7 650.2,286.7 650.4,243.2 650.7,260.7 650.9,247.2 651.1,301.2 651.3,283.4 651.5,240.1 651.8,253.6 652.0,208.6 652.2,271.6 652.4,248.0 652.7,174.4 652.9,273.3 653.1,277.1 653.3,253.8 653.5,254.1 653.8,230.2 654.0,249.5 654.2,273.3 654.4,247.4 654.6,182.3 654.9,219.0 655.1,327.8 655.3,257.0 655.5,276.7 655.7,236.6 656.0,258.0 656.2,201.6 656.4,228.5 656.6,229.6 656.8,248.5 657.1,254.6 657.3,244.5 657.5,219.0 657.7,239.4 657.9,263.2 658.2,219.7 658.4,248.7 658.6,256.0 658.8,275.1 659.0,269.1 659.3,271.0 659.5,328.8 659.7,226.9 659.9,239.0 660.1,259.9 660.4,226.3 660.6,242.6 660.8,244.4 661.0,320.5 661.2,260.7 661.5,240.3 661.7,211.6 661.9,205.5 662.1,216.6 662.3,285.7 662.6,313.4 662.8,239.6 663.0,254.1 663.2,229.2 663.4,258.3 663.7,249.1 663.9,295.0 664.1,243.2 664.3,267.0 664.5,245.9 664.8,243.0 665.0,258.4 665.2,246.9 665.4,255.8 665.6,235.3 665.9,242.2 666.1,270.1 666.3,271.3 666.5,209.3 666.7,258.4 667.0,229.4 667.2,245.4 667.4,270.9 667.6,275.8 667.8,252.8 668.1,249.2 668.3,239.8 668.5,289.8 668.7,272.0 668.9,258.8 669.2,213.8 669.4,319.0 669.6,244.8 669.8,270.8 670.0,245.1 670.3,269.6 670.5,247.0 670.7,215.2 670.9,247.4 671.1,245.3 671.4,247.0 671.6,276.8 671.8,242.6 672.0,262.5 672.2,278.5 672.5,258.1 672.7,263.2 672.9,237.3 673.1,258.4 673.3,271.3 673.6,218.9 673.8,231.3 674.0,224.0 674.2,241.5 674.4,260.5 674.7,268.7 674.9,265.1 675.1,232.8 675.3,254.9 675.5,297.0 675.8,259.0 676.0,295.4 676.2,253.7 676.4,289.9 676.6,291.5 676.9,255.1 677.1,260.4 677.3,302.1 677.5,238.7 677.7,201.5 678.0,297.5 678.2,210.7 678.4,276.7 678.6,271.7 678.8,263.5 679.1,296.8 679.3,224.7 679.5,246.0 679.7,278.8 680.0,266.3 680.2,299.0 680.4,268.3 680.6,234.7 680.8,304.3 681.1,270.8 681.3,255.6 681.5,232.0 681.7,224.2 681.9,271.6 682.2,279.1 682.4,248.0 682.6,269.3 682.8,268.0 683.0,231.7 683.3,215.8 683.5,253.1 683.7,265.2 683.9,245.3 684.1,309.7 684.4,260.8 684.6,288.2 684.8,198.1 685.0,241.8 685.2,257.0 685.5,265.8 685.7,326.5 685.9,242.3 686.1,218.4 686.3,280.0 686.6,243.3 686.8,242.3 687.0,301.6 687.2,236.9 687.4,226.1 687.7,255.5 687.9,263.2 688.1,241.1 688.3,301.8 688.5,259.3 688.8,234.4 689.0,294.2 689.2,236.2 689.4,273.0 689.6,316.2 689.9,265.0 690.1,287.6 690.3,254.1 690.5,292.9 690.7,235.3 691.0,281.8 691.2,253.5 691.4,278.2 691.6,271.3 691.8,232.2 692.1,257.5 692.3,273.4 692.5,295.7 692.7,233.4 692.9,244.5 693.2,272.0 693.4,257.4 693.6,290.4 693.8,290.1 694.0,285.3 694.3,254.9 694.5,256.5 694.7,283.5 694.9,245.3 695.1,244.2 695.4,260.1 695.6,237.9 695.8,272.1 696.0,267.8 696.2,252.8 696.5,265.9 696.7,244.8 696.9,297.4 697.1,228.8 697.3,285.5 697.6,269.8 697.8,301.0 698.0,250.4 698.2,233.3 698.4,238.6 698.7,244.8 698.9,306.1 699.1,286.4 699.3,278.3 699.5,290.5 699.8,238.0 700.0,262.1 700.2,267.6 700.4,254.6 700.6,291.5 700.9,290.5 701.1,289.9 701.3,254.9 701.5,259.0 701.7,253.2 702.0,240.6 702.2,302.7 702.4,282.6 702.6,264.8 702.8,302.9 703.1,282.3 703.3,243.3 703.5,241.3 703.7,242.2 703.9,268.5 704.2,275.1 704.4,242.8 704.6,279.6 704.8,261.9 705.0,237.3 705.3,280.1 705.5,286.4 705.7,271.5 705.9,256.5 706.1,259.7 706.4,268.1 706.6,258.3 706.8,312.5 707.0,294.2 707.3,268.9 707.5,296.4 707.7,306.9 707.9,303.8 708.1,296.8 708.4,278.7 708.6,299.9 708.8,269.0 709.0,233.1 709.2,279.0 709.5,244.2 709.7,268.8 709.9,303.8 710.1,282.8 710.3,300.9 710.6,258.2 710.8,305.6 711.0,245.2 711.2,263.8 711.4,327.6 711.7,259.4 711.9,240.9 712.1,298.3 712.3,255.4 712.5,323.4 712.8,273.9 713.0,320.6 713.2,268.9 713.4,324.1 713.6,344.8 713.9,272.0 714.1,226.7 714.3,296.4 714.5,262.5 714.7,280.1 715.0,290.8 715.2,268.6 715.4,244.4 715.6,313.4 715.8,270.8 716.1,276.3 716.3,318.7 716.5,246.8 716.7,239.2 716.9,308.3 717.2,244.9 717.4,285.0 717.6,290.5 717.8,251.5 718.0,281.9 718.3,279.9 718.5,252.2 718.7,257.9 718.9,267.5 719.1,321.5 719.4,325.7 719.6,263.0 719.8,311.2 720.0,286.4 720.2,315.1 720.5,294.7 720.7,320.3 720.9,253.2 721.1,314.8 721.3,294.3 721.6,296.1 721.8,264.2 722.0,325.0 722.2,293.3 722.4,297.6 722.7,280.9 722.9,282.5 723.1,304.2 723.3,288.3 723.5,302.6 723.8,283.6 724.0,296.9 724.2,309.7 724.4,295.6 724.6,287.0 724.9,244.0 725.1,306.9 725.3,289.0 725.5,263.0 725.7,343.5 726.0,336.1 726.2,323.7 726.4,299.7 726.6,242.4 726.8,288.8 727.1,270.6 727.3,303.0 727.5,353.6 727.7,350.4 727.9,275.9 728.2,294.8 728.4,328.2 728.6,274.5 728.8,334.0 729.0,274.6 729.3,267.8 729.5,317.3 729.7,325.2 729.9,282.0 730.1,325.3 730.4,282.1 730.6,327.9 730.8,283.8 731.0,299.8 731.2,311.7 731.5,322.1 731.7,297.4 731.9,344.4 732.1,309.1 732.3,312.0 732.6,288.6 732.8,331.2 733.0,266.5 733.2,311.0 733.4,329.3 733.7,274.5 733.9,268.7 734.1,309.2 734.3,324.7 734.5,305.3 734.8,320.8 735.0,312.9 735.2,272.6 735.4,298.1 735.7,303.7 735.9,299.6 736.1,308.6 736.3,289.5 736.5,288.9 736.8,316.0 737.0,306.1 737.2,256.9 737.4,299.8 737.6,313.0 737.9,265.6 738.1,309.4 738.3,333.2 738.5,295.8 738.7,329.5 739.0,321.2 739.2,304.0 739.4,313.9 739.6,327.6 739.8,323.4 740.1,324.5 740.3,287.8 740.5,327.7 740.7,324.9 740.9,270.5 741.2,325.0 741.4,282.7 741.6,286.6 741.8,317.5 742.0,344.1 742.3,305.6 742.5,301.3 742.7,295.6 742.9,314.4 743.1,291.4 743.4,287.9 743.6,338.5 743.8,287.8 744.0,313.9 744.2,329.4 744.5,324.7 744.7,280.3 744.9,298.9 745.1,355.5 745.3,317.9 745.6,322.8 745.8,323.9 746.0,331.1 746.2,350.4 746.4,304.3 746.7,340.7 746.9,329.7 747.1,334.7 747.3,337.6 747.5,308.8 747.8,316.4 748.0,337.7 748.2,343.5 748.4,334.5 748.6,306.8 748.9,323.7 749.1,322.1 749.3,333.4 749.5,332.5 749.7,323.8 750.0,364.0 750.2,297.8 750.4,344.5 750.6,340.7 750.8,304.7 751.1,326.5 751.3,330.4 751.5,342.7 751.7,361.6 751.9,329.1 752.2,310.6 752.4,350.4 752.6,308.5 752.8,355.5 753.0,348.6 753.3,326.1 753.5,335.9 753.7,323.7 753.9,350.5 754.1,356.3 754.4,371.9 754.6,360.2 754.8,358.3 755.0,365.1 755.2,334.2 755.5,352.2 755.7,376.4 755.9,296.7 756.1,356.5 756.3,364.4 756.6,320.5 756.8,322.4 757.0,363.8 757.2,369.9 757.4,361.9 757.7,325.1 757.9,350.7 758.1,359.8 758.3,346.7 758.5,325.8 758.8,371.0 759.0,354.1 759.2,371.6 759.4,311.2 759.6,317.8 759.9,333.0 760.1,351.9 760.3,338.9 760.5,385.9 760.7,346.2 761.0,373.7 761.2,373.8 761.4,363.8 761.6,358.3 761.8,343.4 762.1,341.7 762.3,349.4 762.5,369.7 762.7,343.5 763.0,356.9 763.2,336.1 763.4,370.7 763.6,400.9 763.8,364.3 764.1,322.3 764.3,349.9 764.5,360.9 764.7,344.1 764.9,350.6 765.2,351.7 765.4,367.5 765.6,358.6 765.8,357.0 766.0,370.7 766.3,378.5 766.5,359.2 766.7,346.7 766.9,352.2 767.1,354.9 767.4,355.2 767.6,323.7 767.8,359.8 768.0,348.3 768.2,334.8 768.5,364.2 768.7,361.4 768.9,350.0 769.1,340.8 769.3,361.9 769.6,361.5 769.8,366.0 770.0,385.6 770.2,351.6 770.4,372.3 770.7,394.2 770.9,371.5 771.1,394.9 771.3,384.7 771.5,370.2 771.8,384.2 772.0,355.9 772.2,392.7 772.4,368.3 772.6,364.5 772.9,352.1 773.1,360.2 773.3,370.4 773.5,372.9 773.7,375.3 774.0,359.0 774.2,384.4 774.4,368.4 774.6,377.4 774.8,373.2 775.1,380.5 775.3,348.2 775.5,386.6 775.7,374.7 775.9,374.8 776.2,370.8 776.4,373.3 776.6,374.1 776.8,367.1 777.0,400.4 777.3,380.8 777.5,397.5 777.7,378.6 777.9,397.4 778.1,394.9 778.4,383.5 778.6,365.1 778.8,376.1 779.0,380.0 779.2,366.3 779.5,396.6 779.7,411.4 779.9,390.6 780.1,389.1 780.3,370.5 780.6,359.6 780.8,403.2 781.0,356.3 781.2,368.1 781.4,377.4 781.7,383.6 781.9,358.9 782.1,387.9 782.3,394.9 782.5,387.9 782.8,406.4 783.0,384.7 783.2,392.0 783.4,387.2 783.6,387.2 783.9,404.3 784.1,376.9 784.3,404.5 784.5,382.8 784.7,411.9 785.0,389.6 785.2,403.7 785.4,394.3 785.6,402.6 785.8,420.2 786.1,408.6 786.3,395.8 786.5,390.1 786.7,413.7 786.9,421.2 787.2,408.0 787.4,401.3 787.6,406.3 787.8,408.7 788.0,391.6 788.3,391.0 788.5,394.0 788.7,412.0 788.9,402.1 789.1,405.4 789.4,418.4 789.6,395.9 789.8,404.4 790.0,410.7 790.3,393.0 790.5,400.1 790.7,400.2 790.9,397.9 791.1,403.3 791.4,422.4 791.6,415.3 791.8,403.9 792.0,420.4 792.2,414.4 792.5,412.5 792.7,405.1 792.9,407.5 793.1,412.0 793.3,421.6 793.6,414.5 793.8,418.6 794.0,424.7 794.2,415.4 794.4,422.6 794.7,432.0 794.9,420.3 795.1,431.0 795.3,427.2 795.5,440.1 795.8,430.1 796.0,434.6 796.2,433.7 796.4,438.9 796.6,410.2 796.9,424.8 797.1,420.7 797.3,413.0 797.5,421.0 797.7,414.9 798.0,428.7 798.2,415.0 798.4,418.9 798.6,410.1 798.8,411.7 799.1,424.5 799.3,427.9 799.5,419.5 799.7,402.3 799.9,404.2 800.2,403.4 800.4,426.1 800.6,432.1 800.8,410.9 801.0,407.2 801.3,409.2 801.5,398.5 801.7,403.2 801.9,413.2 802.1,409.3 802.4,397.6 802.6,397.6 802.8,398.5 803.0,371.8 803.2,399.2 803.5,394.2 803.7,406.2 803.9,398.3 804.1,387.4 804.3,386.2 804.6,394.0 804.8,386.9 805.0,390.2 805.2,412.8 805.4,429.2 805.7,361.0 805.9,378.3 806.1,388.5 806.3,408.7 806.5,402.5 806.8,369.0 807.0,420.6 807.2,388.9 807.4,373.1 807.6,381.8 807.9,373.3 808.1,384.2 808.3,350.6 808.5,394.8 808.7,398.7 809.0,376.5 809.2,360.4 809.4,379.7 809.6,364.2 809.8,385.0 810.1,393.4 810.3,357.4 810.5,354.3 810.7,354.1 810.9,381.0 811.2,390.5 811.4,390.1 811.6,376.2 811.8,364.2 812.0,364.6 812.3,391.9 812.5,367.9 812.7,369.9 812.9,368.2 813.1,369.3 813.4,371.3 813.6,359.0 813.8,365.3 814.0,363.2 814.2,376.4 814.5,359.4 814.7,366.7 814.9,396.5 815.1,356.2 815.3,367.1 815.6,348.2 815.8,364.4 816.0,362.8 816.2,357.4 816.4,360.3 816.7,366.6 816.9,387.4 817.1,329.0 817.3,383.1 817.6,362.7 817.8,346.1 818.0,349.9 818.2,346.3 818.4,342.4 818.7,333.7 818.9,348.9 819.1,305.2 819.3,369.5 819.5,348.3 819.8,357.6 820.0,360.1 820.2,345.6 820.4,325.2 820.6,361.4 820.9,360.8 821.1,335.8 821.3,338.3 821.5,313.3 821.7,328.7 822.0,342.0 822.2,351.1 822.4,341.1 822.6,347.4 822.8,367.8 823.1,343.1 823.3,345.8 823.5,346.3 823.7,349.2 823.9,310.8 824.2,328.0 824.4,323.1 824.6,350.4 824.8,357.5 825.0,343.5 825.3,333.4 825.5,343.7 825.7,340.3 825.9,318.6 826.1,330.2 826.4,353.5 826.6,342.7 826.8,346.5 827.0,330.4 827.2,355.2 827.5,336.1 827.7,319.1 827.9,331.2 828.1,348.6 828.3,342.5 828.6,327.9 828.8,320.5 829.0,313.2 829.2,331.6 829.4,353.8 829.7,300.3 829.9,321.6 830.1,319.0 830.3,320.5 830.5,346.3 830.8,331.8 831.0,320.0 831.2,304.2 831.4,322.9 831.6,385.5 831.9,328.0 832.1,315.8 832.3,296.5 832.5,307.7 832.7,271.6 833.0,292.4 833.2,293.5 833.4,301.2 833.6,347.7 833.8,302.2 834.1,306.8 834.3,329.2 834.5,306.1 834.7,309.2 834.9,326.8 835.2,319.4 835.4,321.9 835.6,311.4 835.8,324.5 836.0,304.1 836.3,354.7 836.5,320.5 836.7,349.3 836.9,323.9 837.1,302.7 837.4,312.7 837.6,315.1 837.8,311.0 838.0,279.1 838.2,335.0 838.5,292.7 838.7,343.0 838.9,320.6 839.1,306.9 839.3,328.2 839.6,305.4 839.8,293.9 840.0,334.6 840.2,310.5 840.4,316.6 840.7,349.8 840.9,311.9 841.1,324.7 841.3,278.4 841.5,325.8 841.8,270.0 842.0,317.9 842.2,264.1 842.4,294.1 842.6,295.6 842.9,287.6 843.1,285.2 843.3,274.0 843.5,266.4 843.7,311.6 844.0,331.1 844.2,362.0 844.4,311.6 844.6,286.1 844.9,294.2 845.1,299.8 845.3,309.7 845.5,315.9 845.7,307.7 846.0,292.6 846.2,340.1 846.4,284.5 846.6,332.8 846.8,303.6 847.1,314.0 847.3,307.8 847.5,322.7 847.7,324.9 847.9,304.0 848.2,322.9 848.4,243.2 848.6,307.5 848.8,312.6 849.0,310.0 849.3,321.6 849.5,352.6 849.7,302.7 849.9,289.6 850.1,330.5 850.4,296.0 850.6,323.4 850.8,296.5 851.0,287.3 851.2,284.1 851.5,285.0 851.7,310.8 851.9,274.4 852.1,304.5 852.3,286.0 852.6,277.6 852.8,300.5 853.0,322.8 853.2,279.0 853.4,318.6 853.7,313.2 853.9,317.8 854.1,272.7 854.3,295.7 854.5,343.7 854.8,274.5 855.0,243.3 855.2,249.3 855.4,304.0 855.6,288.8 855.9,278.6 856.1,269.4 856.3,289.2 856.5,315.3 856.7,271.9 857.0,275.0 857.2,320.2 857.4,297.5 857.6,282.4 857.8,288.6 858.1,276.0 858.3,269.4 858.5,275.1 858.7,290.4 858.9,319.2 859.2,272.7 859.4,254.0 859.6,240.2 859.8,287.4 860.0,287.3 860.3,252.0 860.5,251.9 860.7,277.8 860.9,268.7 861.1,303.5 861.4,271.4 861.6,304.7 861.8,288.3 862.0,287.6 862.2,295.6 862.5,334.7 862.7,303.8 862.9,275.9 863.1,285.1 863.3,292.9 863.6,273.0 863.8,266.6 864.0,262.5 864.2,302.1 864.4,282.0 864.7,290.4 864.9,303.3 865.1,318.1 865.3,284.2 865.5,302.7 865.8,229.4 866.0,283.6 866.2,286.5 866.4,290.5 866.6,235.2 866.9,303.3 867.1,284.2 867.3,298.8 867.5,282.9 867.7,280.6 868.0,252.7 868.2,313.8 868.4,279.6 868.6,239.5 868.8,291.2 869.1,282.9 869.3,300.1 869.5,342.3 869.7,280.6 869.9,249.0 870.2,289.1 870.4,322.8 870.6,270.7 870.8,275.1 871.0,252.2 871.3,254.2 871.5,283.1 871.7,266.4 871.9,320.5 872.1,248.4 872.4,271.1 872.6,248.7 872.8,249.0 873.0,282.2 873.3,278.6 873.5,296.4 873.7,325.9 873.9,277.6 874.1,270.3 874.4,301.0 874.6,256.0 874.8,271.1 875.0,262.1 875.2,292.4 875.5,317.1 875.7,253.4 875.9,257.3 876.1,275.2 876.3,282.8 876.6,279.0 876.8,275.3 877.0,284.4 877.2,322.0 877.4,251.6 877.7,308.7 877.9,279.3 878.1,278.4 878.3,263.9 878.5,311.1 878.8,239.6 879.0,253.4 879.2,250.3 879.4,237.4 879.6,289.5 879.9,348.6 880.1,260.5 880.3,235.4 880.5,239.0 880.7,281.9 881.0,270.4 881.2,260.6 881.4,313.8 881.6,284.5 881.8,283.6 882.1,226.7 882.3,283.6 882.5,226.6 882.7,266.2 882.9,309.3 883.2,209.4 883.4,290.9 883.6,249.9 883.8,221.8 884.0,279.1 884.3,296.8 884.5,238.3 884.7,263.2 884.9,296.3 885.1,292.4 885.4,274.4 885.6,239.4 885.8,271.5 886.0,247.0 886.2,221.1 886.5,230.8 886.7,226.3 886.9,231.4 887.1,304.8 887.3,231.3 887.6,254.3 887.8,265.9 888.0,290.7 888.2,303.6 888.4,291.1 888.7,262.6 888.9,292.5 889.1,283.0 889.3,277.7 889.5,244.1 889.8,269.0 890.0,265.0 890.2,226.5 890.4,269.3 890.6,245.2 890.9,288.3 891.1,251.9 891.3,257.3 891.5,255.7 891.7,272.4 892.0,287.0 892.2,267.8 892.4,272.1 892.6,232.6 892.8,235.8 893.1,291.0 893.3,242.9 893.5,271.8 893.7,247.1 893.9,271.7 894.2,297.6 894.4,232.1 894.6,246.8 894.8,290.9 895.0,308.3 895.3,272.5 895.5,289.5 895.7,267.8 895.9,241.8 896.1,219.3 896.4,267.4 896.6,221.5 896.8,227.1 897.0,269.2 897.2,301.7 897.5,235.0 897.7,241.4 897.9,195.2 898.1,219.5 898.3,236.6 898.6,212.5 898.8,284.8 899.0,251.9 899.2,264.2 899.4,210.7 899.7,241.8 899.9,337.7 900.1,220.3 900.3,280.6 900.6,235.9 900.8,269.1 901.0,249.8 901.2,239.4 901.4,251.0 901.7,281.4 901.9,218.9 902.1,245.4 902.3,256.3 902.5,237.1 902.8,269.9 903.0,205.6 903.2,249.6 903.4,245.8 903.6,246.2 903.9,279.7 904.1,286.6 904.3,249.5 904.5,245.9 904.7,219.4 905.0,243.1 905.2,284.1 905.4,241.0 905.6,233.0 905.8,228.2 906.1,246.0 906.3,287.4 906.5,223.9 906.7,274.2 906.9,239.4 907.2,296.6 907.4,234.2 907.6,275.5 907.8,225.7 908.0,207.5 908.3,223.3 908.5,285.6 908.7,279.6 908.9,277.6 909.1,236.6 909.4,245.1 909.6,250.0 909.8,246.0 910.0,238.7 910.2,236.8 910.5,209.0 910.7,255.6 910.9,248.6 911.1,303.6 911.3,289.4 911.6,272.5 911.8,285.7 912.0,248.1 912.2,226.1 912.4,265.6 912.7,266.9 912.9,267.6 913.1,250.4 913.3,268.4 913.5,242.4 913.8,245.8 914.0,244.6 914.2,233.4 914.4,252.9 914.6,249.9 914.9,206.6 915.1,255.0 915.3,232.3 915.5,252.2 915.7,265.9 916.0,265.9 916.2,275.6 916.4,253.3 916.6,269.8 916.8,264.9 917.1,220.9 917.3,257.1 917.5,222.9 917.7,246.3 917.9,230.3 918.2,269.8 918.4,249.4 918.6,182.7 918.8,231.1 919.0,226.4 919.3,247.0 919.5,230.2 919.7,284.4 919.9,276.0 920.1,241.7 920.4,231.2 920.6,264.2 920.8,258.2 921.0,262.8 921.2,258.1 921.5,285.3 921.7,291.5 921.9,255.2 922.1,299.7 922.3,279.3 922.6,270.8 922.8,281.3 923.0,246.6 923.2,265.0 923.4,255.2 923.7,280.2 923.9,273.0 924.1,239.2 924.3,243.2 924.5,265.5 924.8,243.2 925.0,247.9 925.2,248.7 925.4,210.0 925.6,263.7 925.9,241.6 926.1,241.6 926.3,259.2 926.5,284.3 926.7,234.3 927.0,245.8 927.2,251.5 927.4,252.2 927.6,252.3 927.9,276.9 928.1,245.0 928.3,301.4 928.5,253.6 928.7,293.2 929.0,262.3 929.2,233.6 929.4,259.8 929.6,265.8 929.8,239.0 930.1,260.1 930.3,263.8 930.5,263.4 930.7,212.0 930.9,234.8 931.2,239.7 931.4,284.9 931.6,236.0 931.8,287.6 932.0,239.7 932.3,282.8 932.5,199.9 932.7,298.1 932.9,219.6 933.1,230.9 933.4,300.5 933.6,259.0 933.8,213.4 934.0,221.7 934.2,297.3 934.5,266.4 934.7,284.1 934.9,280.0 935.1,269.7 935.3,202.4 935.6,248.6 935.8,258.3 936.0,261.2 936.2,234.1 936.4,233.4 936.7,276.9 936.9,212.2 937.1,281.3 937.3,259.4 937.5,239.7 937.8,205.5 938.0,261.2 938.2,244.0 938.4,216.4 938.6,234.8 938.9,221.1 939.1,223.4 939.3,244.5 939.5,234.4 939.7,226.6 940.0,252.2 940.2,208.0 940.4,305.3 940.6,276.3 940.8,212.1 941.1,239.6 941.3,268.7 941.5,240.9 941.7,221.6 941.9,266.3 942.2,230.2 942.4,254.3 942.6,254.0 942.8,252.8 943.0,220.6 943.3,281.3 943.5,260.8 943.7,232.7 943.9,283.9 944.1,293.7 944.4,235.1 944.6,250.5 944.8,254.6 945.0,246.6 945.2,277.0 945.5,171.1 945.7,277.2 945.9,262.2 946.1,289.1 946.3,261.6 946.6,208.7 946.8,249.7 947.0,234.0 947.2,263.3 947.4,200.7 947.7,245.6 947.9,284.1 948.1,229.0 948.3,260.1 948.5,233.4 948.8,246.1 949.0,242.7 949.2,246.1 949.4,274.6 949.6,290.8 949.9,223.1 950.1,253.5 950.3,241.9 950.5,262.4 950.7,305.0 951.0,284.5 951.2,211.5 951.4,271.1 951.6,260.0 951.8,289.7 952.1,264.0 952.3,259.7 952.5,255.6 952.7,251.5 952.9,266.8 953.2,265.2 953.4,249.8 953.6,240.6 953.8,253.3 954.0,201.8 954.3,243.8 954.5,245.0 954.7,267.3 954.9,221.3 955.2,277.4 955.4,293.6 955.6,276.0 955.8,232.4 956.0,280.7 956.3,213.9 956.5,249.9 956.7,290.8 956.9,255.6 957.1,200.5 957.4,272.8 957.6,285.1 957.8,235.3 958.0,213.5 958.2,221.4 958.5,258.3 958.7,244.1 958.9,240.3 959.1,217.1 959.3,190.4 959.6,252.2 959.8,213.6 960.0,258.6 960.2,233.1 960.4,274.7 960.7,270.1 960.9,237.8 961.1,273.7 961.3,224.9 961.5,264.2 961.8,247.0 962.0,251.4 962.2,258.2 962.4,245.5 962.6,219.5 962.9,164.0 963.1,281.6 963.3,240.8 963.5,253.9 963.7,274.1 964.0,241.2 964.2,273.1 964.4,251.2 964.6,215.0 964.8,304.4 965.1,242.2 965.3,236.7 965.5,275.2 965.7,234.6 965.9,239.3 966.2,258.5 966.4,215.7 966.6,284.8 966.8,231.3 967.0,255.3 967.3,277.9 967.5,253.8 967.7,258.5 967.9,226.4 968.1,289.9 968.4,254.2 968.6,261.4 968.8,205.7 969.0,279.5 969.2,219.8 969.5,297.0 969.7,239.4 969.9,252.6 970.1,238.5 970.3,268.2 970.6,302.4 970.8,291.3 971.0,213.0 971.2,243.1 971.4,272.7 971.7,224.3 971.9,269.5 972.1,269.3 972.3,282.3 972.5,216.8 972.8,195.3 973.0,275.5 973.2,241.2 973.4,222.3 973.6,191.1 973.9,314.9 974.1,245.3 974.3,231.5 974.5,289.8 974.7,238.0 975.0,243.8 975.2,229.4 975.4,265.2 975.6,237.8 975.8,265.8 976.1,232.6 976.3,244.9 976.5,259.6 976.7,288.1 976.9,204.0 977.2,218.8 977.4,225.1 977.6,267.5 977.8,258.8 978.0,203.4 978.3,228.8 978.5,272.6 978.7,247.9 978.9,245.3 979.1,254.6 979.4,275.0 979.6,214.7 979.8,232.9 980.0,254.5 980.2,292.2 980.5,265.0 980.7,249.1 980.9,225.1 981.1,259.1 981.3,218.5 981.6,245.0 981.8,269.3 982.0,325.5 982.2,281.0 982.5,289.7 982.7,252.9 982.9,239.6 983.1,210.5 983.3,249.0 983.6,280.4 983.8,184.0 984.0,240.0 984.2,255.8 984.4,255.7 984.7,285.6 984.9,231.0 985.1,238.2 985.3,204.8 985.5,218.1 985.8,224.5 986.0,213.8 986.2,256.1 986.4,260.5 986.6,249.6 986.9,282.5 987.1,252.1 987.3,257.2 987.5,229.8 987.7,248.5 988.0,300.5 988.2,247.2 988.4,209.1 988.6,298.4 988.8,268.8 989.1,247.5 989.3,284.3 989.5,263.0 989.7,246.3 989.9,284.1 990.2,239.7 990.4,236.5 990.6,282.6 990.8,247.0 991.0,218.0 991.3,252.5 991.5,235.7 991.7,229.9 991.9,254.0 992.1,220.6 992.4,237.0 992.6,274.7 992.8,233.1 993.0,223.7 993.2,225.3 993.5,265.1 993.7,234.7 993.9,209.6 994.1,240.9 994.3,214.7 994.6,211.5 994.8,248.2 995.0,229.0 995.2,255.1 995.4,217.8 995.7,249.6 995.9,262.2 996.1,247.7" fill="none" stroke="#0072bd" stroke-width="1.7" stroke-linejoin="round" marker-start="url(#mb)" marker-mid="url(#mb)" marker-end="url(#mb)"/>
<rect x="1003.90" y="11.80" width="412.60" height="442.30" stroke="#000" stroke-width="2" fill="none"/>
<path d="M1003.50 453.20L1003.50 448.90M1003.50 12.70L1003.50 17.00M1072.30 453.20L1072.30 448.90M1072.30 12.70L1072.30 17.00M1141.10 453.20L1141.10 448.90M1141.10 12.70L1141.10 17.00M1209.90 453.20L1209.90 448.90M1209.90 12.70L1209.90 17.00M1278.70 453.20L1278.70 448.90M1278.70 12.70L1278.70 17.00M1347.50 453.20L1347.50 448.90M1347.50 12.70L1347.50 17.00M1415.60 413.84L1411.80 413.84M1415.60 373.58L1411.80 373.58M1415.60 333.32L1411.80 333.32M1415.60 293.06L1411.80 293.06M1415.60 252.80L1411.80 252.80M1415.60 212.54L1411.80 212.54M1415.60 172.28L1411.80 172.28M1415.60 132.02L1411.80 132.02M1415.60 91.76L1411.80 91.76M1415.60 51.50L1411.80 51.50M1004.80 454.10L1008.60 454.10M1004.80 413.84L1008.60 413.84M1004.80 373.58L1008.60 373.58M1004.80 333.32L1008.60 333.32M1004.80 293.06L1008.60 293.06M1004.80 252.80L1008.60 252.80M1004.80 212.54L1008.60 212.54M1004.80 172.28L1008.60 172.28M1004.80 132.02L1008.60 132.02M1004.80 91.76L1008.60 91.76M1004.80 51.50L1008.60 51.50M1004.80 11.80L1008.60 11.80" stroke="#000" stroke-width="3.8" stroke-linecap="square" fill="none"/>
<defs><marker id="mc" markerUnits="userSpaceOnUse" markerWidth="8" markerHeight="8" refX="3" refY="3" viewBox="-1 -1 8 8"><circle cx="3" cy="3" r="2.2" fill="none" stroke="#0072bd" stroke-width="1.4"/></marker><clipPath id="cc"><rect x="1003.5" y="11.7" width="413" height="442.4"/></clipPath></defs><polyline clip-path="url(#cc)" points="1003.5,407.5 1003.9,410.4 1004.4,412.7 1004.8,432.0 1005.3,408.5 1005.7,430.3 1006.1,404.5 1006.6,407.0 1007.0,405.1 1007.5,405.1 1007.9,409.7 1008.3,416.8 1008.8,414.8 1009.2,399.3 1009.7,417.2 1010.1,414.1 1010.5,418.4 1011.0,416.6 1011.4,414.8 1011.9,410.0 1012.3,414.7 1012.7,415.2 1013.2,417.4 1013.6,411.4 1014.1,423.6 1014.5,411.7 1014.9,401.0 1015.4,418.7 1015.8,412.5 1016.3,388.1 1016.7,420.6 1017.1,426.0 1017.6,415.8 1018.0,396.7 1018.5,394.8 1018.9,422.5 1019.4,407.3 1019.8,412.1 1020.2,417.1 1020.7,428.7 1021.1,403.4 1021.6,419.4 1022.0,409.5 1022.4,411.4 1022.9,396.1 1023.3,402.1 1023.8,421.9 1024.2,414.3 1024.6,403.2 1025.1,423.4 1025.5,415.4 1026.0,410.1 1026.4,425.8 1026.8,422.6 1027.3,426.6 1027.7,409.6 1028.2,416.8 1028.6,404.1 1029.0,411.0 1029.5,407.1 1029.9,412.7 1030.4,405.6 1030.8,412.9 1031.2,420.4 1031.7,401.9 1032.1,403.6 1032.6,392.6 1033.0,413.2 1033.4,416.9 1033.9,424.3 1034.3,444.9 1034.8,423.1 1035.2,407.8 1035.6,419.5 1036.1,434.1 1036.5,406.7 1037.0,417.0 1037.4,415.0 1037.8,415.6 1038.3,413.1 1038.7,407.9 1039.2,426.7 1039.6,413.8 1040.0,416.2 1040.5,402.2 1040.9,420.7 1041.4,397.9 1041.8,406.7 1042.2,398.0 1042.7,417.9 1043.1,405.0 1043.6,408.7 1044.0,424.6 1044.4,414.1 1044.9,415.7 1045.3,420.1 1045.8,418.4 1046.2,424.1 1046.7,415.8 1047.1,408.9 1047.5,418.4 1048.0,425.1 1048.4,402.8 1048.9,414.9 1049.3,411.5 1049.7,413.8 1050.2,416.4 1050.6,406.6 1051.1,416.3 1051.5,411.5 1051.9,424.1 1052.4,425.7 1052.8,415.0 1053.3,395.4 1053.7,410.1 1054.1,395.2 1054.6,407.8 1055.0,407.8 1055.5,416.6 1055.9,411.8 1056.3,396.3 1056.8,401.5 1057.2,417.0 1057.7,415.6 1058.1,400.2 1058.5,416.0 1059.0,403.7 1059.4,419.3 1059.9,406.2 1060.3,398.5 1060.7,404.4 1061.2,409.4 1061.6,410.3 1062.1,412.2 1062.5,411.7 1062.9,401.4 1063.4,401.6 1063.8,408.0 1064.3,422.2 1064.7,415.9 1065.1,408.9 1065.6,411.0 1066.0,423.0 1066.5,405.7 1066.9,389.1 1067.3,421.8 1067.8,410.8 1068.2,397.5 1068.7,414.9 1069.1,414.8 1069.5,409.8 1070.0,406.4 1070.4,414.8 1070.9,402.9 1071.3,427.5 1071.7,405.6 1072.2,408.1 1072.6,412.6 1073.1,407.9 1073.5,410.8 1074.0,399.8 1074.4,415.1 1074.8,411.5 1075.3,423.0 1075.7,420.7 1076.2,413.1 1076.6,424.4 1077.0,418.3 1077.5,422.4 1077.9,415.3 1078.4,410.0 1078.8,402.9 1079.2,427.6 1079.7,412.7 1080.1,403.5 1080.6,399.1 1081.0,398.9 1081.4,423.2 1081.9,415.3 1082.3,406.0 1082.8,402.8 1083.2,408.4 1083.6,408.6 1084.1,408.7 1084.5,417.4 1085.0,409.4 1085.4,403.8 1085.8,413.7 1086.3,400.7 1086.7,435.1 1087.2,413.5 1087.6,396.1 1088.0,403.2 1088.5,398.3 1088.9,409.4 1089.4,420.8 1089.8,415.0 1090.2,397.5 1090.7,426.3 1091.1,418.7 1091.6,425.3 1092.0,415.1 1092.4,414.1 1092.9,405.5 1093.3,417.5 1093.8,395.7 1094.2,404.9 1094.6,414.5 1095.1,418.9 1095.5,423.3 1096.0,409.3 1096.4,393.3 1096.8,411.7 1097.3,419.1 1097.7,410.8 1098.2,414.7 1098.6,418.0 1099.0,426.5 1099.5,410.7 1099.9,397.4 1100.4,399.6 1100.8,401.7 1101.3,408.3 1101.7,406.0 1102.1,401.4 1102.6,410.5 1103.0,407.6 1103.5,413.4 1103.9,400.2 1104.3,417.9 1104.8,404.1 1105.2,402.5 1105.7,402.7 1106.1,403.7 1106.5,413.8 1107.0,414.7 1107.4,413.3 1107.9,413.0 1108.3,419.5 1108.7,413.6 1109.2,415.2 1109.6,417.9 1110.1,406.5 1110.5,416.2 1110.9,407.5 1111.4,396.9 1111.8,395.0 1112.3,409.4 1112.7,400.7 1113.1,407.3 1113.6,388.8 1114.0,395.2 1114.5,399.7 1114.9,410.7 1115.3,411.5 1115.8,404.6 1116.2,409.6 1116.7,411.4 1117.1,403.2 1117.5,420.0 1118.0,426.5 1118.4,418.0 1118.9,419.2 1119.3,409.9 1119.7,416.7 1120.2,410.8 1120.6,426.6 1121.1,396.3 1121.5,405.6 1121.9,416.5 1122.4,406.2 1122.8,398.3 1123.3,401.6 1123.7,409.7 1124.1,403.5 1124.6,401.1 1125.0,419.3 1125.5,421.3 1125.9,413.9 1126.3,400.2 1126.8,395.9 1127.2,407.5 1127.7,395.5 1128.1,399.9 1128.6,409.2 1129.0,415.0 1129.4,414.1 1129.9,407.8 1130.3,396.2 1130.8,401.1 1131.2,419.8 1131.6,419.1 1132.1,401.3 1132.5,406.6 1133.0,416.5 1133.4,402.3 1133.8,396.3 1134.3,401.2 1134.7,407.2 1135.2,396.4 1135.6,411.4 1136.0,413.2 1136.5,416.1 1136.9,391.4 1137.4,389.4 1137.8,408.3 1138.2,402.7 1138.7,403.9 1139.1,399.6 1139.6,397.3 1140.0,401.8 1140.4,408.5 1140.9,412.2 1141.3,416.5 1141.8,430.4 1142.2,408.4 1142.6,414.8 1143.1,407.2 1143.5,408.4 1144.0,416.4 1144.4,411.8 1144.8,403.7 1145.3,405.8 1145.7,415.0 1146.2,413.8 1146.6,402.2 1147.0,405.1 1147.5,404.4 1147.9,408.5 1148.4,400.6 1148.8,406.2 1149.2,384.9 1149.7,411.1 1150.1,413.1 1150.6,392.4 1151.0,407.5 1151.4,413.7 1151.9,403.0 1152.3,427.0 1152.8,402.8 1153.2,406.5 1153.6,404.3 1154.1,413.7 1154.5,395.1 1155.0,403.8 1155.4,406.7 1155.9,403.3 1156.3,413.7 1156.7,407.5 1157.2,419.5 1157.6,416.0 1158.1,403.7 1158.5,405.2 1158.9,399.7 1159.4,411.9 1159.8,407.1 1160.3,412.1 1160.7,403.8 1161.1,399.1 1161.6,396.5 1162.0,400.9 1162.5,412.8 1162.9,403.9 1163.3,414.8 1163.8,422.5 1164.2,404.1 1164.7,404.8 1165.1,399.0 1165.5,398.2 1166.0,416.3 1166.4,413.4 1166.9,405.4 1167.3,404.6 1167.7,401.6 1168.2,416.6 1168.6,407.3 1169.1,399.4 1169.5,388.3 1169.9,415.9 1170.4,390.6 1170.8,407.3 1171.3,417.4 1171.7,392.9 1172.1,414.0 1172.6,414.8 1173.0,398.0 1173.5,395.1 1173.9,403.6 1174.3,410.5 1174.8,417.2 1175.2,403.0 1175.7,424.5 1176.1,416.6 1176.5,394.2 1177.0,398.0 1177.4,392.5 1177.9,399.6 1178.3,413.2 1178.7,398.7 1179.2,418.8 1179.6,396.4 1180.1,390.3 1180.5,411.1 1180.9,392.9 1181.4,401.5 1181.8,403.1 1182.3,419.0 1182.7,402.6 1183.2,393.1 1183.6,415.8 1184.0,404.3 1184.5,405.8 1184.9,413.6 1185.4,388.8 1185.8,397.3 1186.2,396.4 1186.7,387.0 1187.1,401.9 1187.6,364.3 1188.0,397.4 1188.4,402.9 1188.9,385.2 1189.3,386.4 1189.8,397.5 1190.2,395.4 1190.6,377.1 1191.1,380.1 1191.5,376.7 1192.0,369.9 1192.4,381.7 1192.8,361.1 1193.3,370.4 1193.7,360.6 1194.2,373.8 1194.6,354.0 1195.0,355.5 1195.5,330.0 1195.9,353.5 1196.4,333.2 1196.8,339.2 1197.2,326.3 1197.7,336.9 1198.1,330.9 1198.6,355.9 1199.0,342.4 1199.4,313.8 1199.9,316.2 1200.3,307.8 1200.8,314.1 1201.2,297.1 1201.6,303.5 1202.1,293.4 1202.5,271.8 1203.0,265.4 1203.4,274.3 1203.8,260.1 1204.3,247.9 1204.7,240.4 1205.2,226.8 1205.6,223.1 1206.0,190.7 1206.5,196.7 1206.9,183.0 1207.4,143.5 1207.8,126.9 1208.2,118.7 1208.7,130.6 1209.1,135.4 1209.6,113.0 1210.0,96.9 1210.5,110.1 1210.9,111.8 1211.3,123.0 1211.8,117.8 1212.2,67.8 1212.7,104.2 1213.1,88.6 1213.5,79.1 1214.0,67.8 1214.4,84.9 1214.9,57.7 1215.3,56.1 1215.7,63.5 1216.2,87.3 1216.6,105.6 1217.1,143.4 1217.5,128.0 1217.9,158.1 1218.4,182.0 1218.8,177.8 1219.3,183.0 1219.7,195.9 1220.1,203.5 1220.6,207.5 1221.0,238.0 1221.5,239.8 1221.9,248.8 1222.3,278.0 1222.8,258.3 1223.2,284.4 1223.7,288.4 1224.1,298.0 1224.5,319.2 1225.0,309.1 1225.4,314.7 1225.9,330.2 1226.3,368.7 1226.7,330.4 1227.2,351.0 1227.6,360.2 1228.1,362.4 1228.5,369.6 1228.9,364.4 1229.4,356.5 1229.8,375.3 1230.3,363.8 1230.7,373.2 1231.1,371.2 1231.6,373.5 1232.0,368.0 1232.5,362.2 1232.9,373.1 1233.3,365.3 1233.8,360.5 1234.2,389.7 1234.7,369.0 1235.1,380.3 1235.5,380.0 1236.0,369.7 1236.4,382.1 1236.9,386.6 1237.3,369.4 1237.8,372.2 1238.2,379.0 1238.6,357.0 1239.1,393.6 1239.5,400.3 1240.0,387.8 1240.4,397.1 1240.8,383.7 1241.3,393.3 1241.7,394.0 1242.2,389.0 1242.6,397.5 1243.0,408.0 1243.5,397.5 1243.9,384.9 1244.4,389.8 1244.8,383.9 1245.2,377.5 1245.7,385.4 1246.1,394.4 1246.6,401.2 1247.0,390.5 1247.4,380.5 1247.9,382.6 1248.3,387.4 1248.8,403.5 1249.2,391.3 1249.6,390.4 1250.1,386.0 1250.5,408.8 1251.0,403.9 1251.4,396.6 1251.8,397.0 1252.3,403.9 1252.7,394.1 1253.2,401.5 1253.6,389.2 1254.0,403.7 1254.5,397.8 1254.9,418.6 1255.4,398.2 1255.8,406.2 1256.2,394.1 1256.7,402.2 1257.1,389.9 1257.6,405.8 1258.0,414.1 1258.4,399.4 1258.9,396.6 1259.3,408.5 1259.8,413.6 1260.2,395.6 1260.6,393.1 1261.1,396.2 1261.5,402.0 1262.0,403.0 1262.4,388.8 1262.8,396.3 1263.3,411.5 1263.7,413.2 1264.2,398.3 1264.6,397.5 1265.1,409.5 1265.5,411.0 1265.9,395.9 1266.4,407.3 1266.8,397.4 1267.3,414.5 1267.7,413.6 1268.1,420.1 1268.6,405.5 1269.0,408.9 1269.5,420.2 1269.9,404.2 1270.3,410.3 1270.8,407.8 1271.2,393.7 1271.7,397.6 1272.1,401.9 1272.5,409.2 1273.0,416.7 1273.4,412.2 1273.9,409.8 1274.3,395.7 1274.7,414.8 1275.2,411.6 1275.6,407.0 1276.1,403.6 1276.5,397.7 1276.9,395.6 1277.4,408.5 1277.8,390.5 1278.3,401.5 1278.7,414.2 1279.1,415.9 1279.6,411.1 1280.0,409.8 1280.5,400.8 1280.9,414.8 1281.3,412.7 1281.8,415.2 1282.2,405.5 1282.7,420.5 1283.1,403.2 1283.5,414.9 1284.0,410.0 1284.4,404.4 1284.9,405.6 1285.3,384.1 1285.7,416.1 1286.2,426.4 1286.6,419.7 1287.1,401.3 1287.5,417.7 1287.9,399.6 1288.4,410.4 1288.8,402.2 1289.3,421.9 1289.7,399.7 1290.1,398.7 1290.6,416.8 1291.0,397.4 1291.5,386.1 1291.9,408.9 1292.3,417.0 1292.8,414.1 1293.2,411.5 1293.7,400.3 1294.1,393.3 1294.6,412.7 1295.0,411.1 1295.4,421.1 1295.9,413.7 1296.3,405.2 1296.8,426.6 1297.2,403.4 1297.6,401.6 1298.1,399.0 1298.5,414.3 1299.0,423.0 1299.4,411.9 1299.8,418.4 1300.3,424.7 1300.7,416.1 1301.2,421.6 1301.6,393.1 1302.0,403.2 1302.5,402.1 1302.9,419.3 1303.4,398.0 1303.8,413.0 1304.2,402.5 1304.7,418.6 1305.1,404.5 1305.6,424.3 1306.0,411.4 1306.4,412.0 1306.9,421.7 1307.3,409.8 1307.8,414.9 1308.2,413.5 1308.6,403.7 1309.1,399.0 1309.5,411.8 1310.0,399.1 1310.4,401.6 1310.8,403.8 1311.3,396.6 1311.7,423.2 1312.2,398.8 1312.6,407.0 1313.0,413.6 1313.5,411.8 1313.9,401.6 1314.4,400.0 1314.8,404.2 1315.2,420.3 1315.7,422.9 1316.1,410.0 1316.6,405.0 1317.0,416.3 1317.4,402.9 1317.9,405.2 1318.3,406.3 1318.8,417.0 1319.2,399.8 1319.6,402.2 1320.1,398.9 1320.5,407.3 1321.0,421.4 1321.4,407.3 1321.9,403.1 1322.3,411.8 1322.7,420.4 1323.2,405.8 1323.6,405.1 1324.1,421.4 1324.5,416.9 1324.9,423.1 1325.4,408.0 1325.8,409.3 1326.3,396.0 1326.7,418.7 1327.1,399.5 1327.6,412.8 1328.0,408.6 1328.5,421.5 1328.9,410.8 1329.3,415.5 1329.8,412.0 1330.2,409.5 1330.7,406.9 1331.1,403.9 1331.5,411.3 1332.0,418.7 1332.4,402.3 1332.9,410.4 1333.3,416.3 1333.7,399.4 1334.2,408.7 1334.6,405.0 1335.1,425.6 1335.5,416.5 1335.9,394.0 1336.4,406.9 1336.8,407.1 1337.3,417.3 1337.7,412.4 1338.1,408.1 1338.6,412.0 1339.0,412.3 1339.5,426.3 1339.9,418.2 1340.3,415.3 1340.8,406.6 1341.2,407.0 1341.7,411.6 1342.1,417.7 1342.5,417.7 1343.0,409.5 1343.4,423.1 1343.9,413.5 1344.3,414.3 1344.7,413.8 1345.2,397.6 1345.6,412.9 1346.1,404.4 1346.5,398.2 1346.9,407.4 1347.4,411.8 1347.8,422.5 1348.3,398.0 1348.7,421.3 1349.2,429.2 1349.6,402.8 1350.0,424.4 1350.5,422.1 1350.9,418.0 1351.4,422.1 1351.8,430.6 1352.2,410.5 1352.7,408.0 1353.1,405.7 1353.6,412.5 1354.0,415.6 1354.4,416.8 1354.9,401.9 1355.3,405.1 1355.8,416.0 1356.2,409.7 1356.6,422.4 1357.1,408.1 1357.5,421.5 1358.0,413.6 1358.4,414.4 1358.8,435.2 1359.3,406.8 1359.7,412.7 1360.2,419.2 1360.6,418.6 1361.0,413.4 1361.5,414.0 1361.9,408.8 1362.4,411.4 1362.8,407.5 1363.2,410.6 1363.7,424.5 1364.1,424.5 1364.6,408.7 1365.0,409.3 1365.4,412.7 1365.9,423.7 1366.3,418.6 1366.8,419.5 1367.2,407.0 1367.6,419.5 1368.1,424.1 1368.5,419.4 1369.0,410.1 1369.4,399.3 1369.8,416.8 1370.3,403.2 1370.7,416.4 1371.2,416.3 1371.6,419.8 1372.0,406.0 1372.5,416.7 1372.9,404.6 1373.4,416.0 1373.8,397.9 1374.2,410.7 1374.7,412.1 1375.1,422.6 1375.6,401.6 1376.0,409.9 1376.5,411.8 1376.9,412.2 1377.3,416.6 1377.8,416.8 1378.2,409.5 1378.7,419.1 1379.1,413.6 1379.5,393.3 1380.0,413.4 1380.4,414.7 1380.9,404.8 1381.3,420.6 1381.7,400.5 1382.2,412.3 1382.6,422.2 1383.1,413.5 1383.5,418.2 1383.9,406.5 1384.4,416.3 1384.8,406.3 1385.3,428.6 1385.7,416.1 1386.1,407.6 1386.6,408.1 1387.0,411.9 1387.5,406.1 1387.9,405.8 1388.3,412.4 1388.8,410.6 1389.2,404.8 1389.7,411.0 1390.1,434.0 1390.5,425.7 1391.0,418.0 1391.4,406.7 1391.9,411.9 1392.3,407.0 1392.7,404.0 1393.2,407.9 1393.6,420.5 1394.1,405.4 1394.5,423.9 1394.9,423.4 1395.4,416.3 1395.8,431.8 1396.3,398.6 1396.7,392.8 1397.1,414.2 1397.6,416.1 1398.0,430.5 1398.5,408.5 1398.9,418.9 1399.3,423.2 1399.8,424.8 1400.2,414.1 1400.7,415.0 1401.1,414.3 1401.5,418.4 1402.0,427.8 1402.4,401.1 1402.9,406.4 1403.3,418.3 1403.8,424.7 1404.2,421.8 1404.6,407.5 1405.1,409.0 1405.5,410.9 1406.0,403.2 1406.4,418.0 1406.8,401.2 1407.3,411.9 1407.7,419.7 1408.2,409.0 1408.6,410.6 1409.0,419.2 1409.5,398.1 1409.9,427.2 1410.4,411.1 1410.8,409.8 1411.2,419.3 1411.7,412.8 1412.1,402.2 1412.6,422.7 1413.0,422.4 1413.4,416.1 1413.9,408.9 1414.3,403.7 1414.8,408.3 1415.2,422.6 1415.6,403.8 1416.1,407.1" fill="none" stroke="#0072bd" stroke-width="1.7" stroke-linejoin="round" marker-start="url(#mc)" marker-mid="url(#mc)" marker-end="url(#mc)"/>
<g opacity="0.999">
<text transform="translate(77.20,482.60) scale(1.0300,1)" font-size="33.50">0</text>
<text transform="translate(157.93,482.60) scale(1.0300,1)" font-size="33.50">1</text>
<text transform="translate(240.50,482.60) scale(1.0300,1)" font-size="33.50">2</text>
<text transform="translate(323.07,482.60) scale(1.0300,1)" font-size="33.50">3</text>
<text transform="translate(405.37,482.60) scale(1.0300,1)" font-size="33.50">4</text>
<text transform="translate(487.67,482.60) scale(1.0300,1)" font-size="33.50">5</text>
<text transform="translate(220.06,513.00) scale(1.0251,1)" font-size="33.50">Time (ns)</text>
<text transform="translate(32.03,36.00) scale(0.9874,1)" font-size="33.50">10</text>
<text transform="translate(69.30,27.20) scale(0.9697,1)" font-size="19.80">0</text>
<text transform="translate(26.62,275.60) scale(0.9932,1)" font-size="33.50">10</text>
<text transform="translate(64.53,266.40) scale(0.9207,1)" font-size="19.80">-1</text>
<text transform="translate(25.50,410.18) rotate(-90) scale(1.0242,1)" font-size="33.50">Norm. counts (log-a.u.)</text>
<text transform="translate(100.21,52.60) scale(0.8803,1)" font-size="43" font-weight="bold">a</text>
<text transform="translate(322.10,237.10) scale(0.8613,1)" font-size="34.50" font-weight="bold">τ</text>
<text transform="translate(334.40,246.00) scale(0.9729,1)" font-size="20.50" font-weight="bold">X</text>
<text transform="translate(348.08,216.00) scale(1.0484,1)" font-size="12.80" font-weight="bold">0</text>
<text transform="translate(362.89,237.10) scale(0.9364,1)" font-size="34.50" font-weight="bold">= 409 ps</text>
<text transform="translate(558.12,482.30) scale(1.0300,1)" font-size="33.50">-15</text>
<text transform="translate(626.66,482.30) scale(1.0300,1)" font-size="33.50">-10</text>
<text transform="translate(705.32,482.30) scale(1.0300,1)" font-size="33.50">-5</text>
<text transform="translate(779.60,482.30) scale(1.0300,1)" font-size="33.50">0</text>
<text transform="translate(848.67,482.30) scale(1.0300,1)" font-size="33.50">5</text>
<text transform="translate(907.06,482.30) scale(1.0300,1)" font-size="33.50">10</text>
<text transform="translate(700.02,512.70) scale(1.0244,1)" font-size="33.50">Delay τ (ns)</text>
<text transform="translate(560.41,24.40) scale(1.0300,1)" font-size="33.50">2</text>
<text transform="translate(562.41,242.30) scale(0.7576,1)" font-size="33.50">1</text>
<text transform="translate(558.84,459.80) scale(1.1104,1)" font-size="33.50">0</text>
<text transform="translate(549.40,281.97) rotate(-90) scale(1.0256,1)" font-size="33.50">g(2)(τ)</text>
<text transform="translate(592.80,56.60) scale(1.0058,1)" font-size="43" font-weight="bold">b</text>
<text transform="translate(868.60,63.50) scale(0.8657,1)" font-size="43.50" font-weight="bold">X</text>
<text transform="translate(894.02,51.50) scale(0.9096,1)" font-size="34.50" font-weight="bold">0</text>
<text transform="translate(920.69,63.50) scale(0.8914,1)" font-size="43.50" font-weight="bold">-</text>
<text transform="translate(943.50,63.50) scale(0.8657,1)" font-size="43.50" font-weight="bold">X</text>
<text transform="translate(969.90,63.50) scale(0.7827,1)" font-size="43.50" font-weight="bold">*</text>
<text transform="translate(977.12,482.30) scale(1.0300,1)" font-size="33.50">-15</text>
<text transform="translate(1046.66,482.30) scale(1.0300,1)" font-size="33.50">-10</text>
<text transform="translate(1125.32,482.30) scale(1.0300,1)" font-size="33.50">-5</text>
<text transform="translate(1199.60,482.30) scale(1.0300,1)" font-size="33.50">0</text>
<text transform="translate(1268.67,482.30) scale(1.0300,1)" font-size="33.50">5</text>
<text transform="translate(1327.06,482.30) scale(1.0300,1)" font-size="33.50">10</text>
<text transform="translate(1119.72,512.70) scale(1.0244,1)" font-size="33.50">Delay τ (ns)</text>
<text transform="translate(1423.52,466.30) scale(1.0300,1)" font-size="33.50">0</text>
<text transform="translate(1422.98,385.78) scale(1.0300,1)" font-size="33.50">2</text>
<text transform="translate(1424.06,305.26) scale(1.0300,1)" font-size="33.50">4</text>
<text transform="translate(1422.98,224.74) scale(1.0300,1)" font-size="33.50">6</text>
<text transform="translate(1423.52,144.22) scale(1.0300,1)" font-size="33.50">8</text>
<text transform="translate(1421.64,63.70) scale(1.0300,1)" font-size="33.50">10</text>
<text transform="translate(1489.80,281.97) rotate(-90) scale(1.0256,1)" font-size="33.50">g(2)(τ)</text>
<text transform="translate(1014.96,56.50) scale(1.0000,1)" font-size="43" font-weight="bold">c</text>
<text transform="translate(1266.30,63.50) scale(0.8657,1)" font-size="43.50" font-weight="bold">X</text>
<text transform="translate(1293.20,51.50) scale(0.8378,1)" font-size="34.50" font-weight="bold">0</text>
<text transform="translate(1318.12,63.50) scale(0.9433,1)" font-size="43.50" font-weight="bold">-</text>
<text transform="translate(1341.40,63.50) scale(0.8654,1)" font-size="43.50" font-weight="bold">XX</text>
<text transform="translate(1392.57,51.50) scale(0.8617,1)" font-size="34.50" font-weight="bold">0</text>
</g>
</svg>
</body></html>
